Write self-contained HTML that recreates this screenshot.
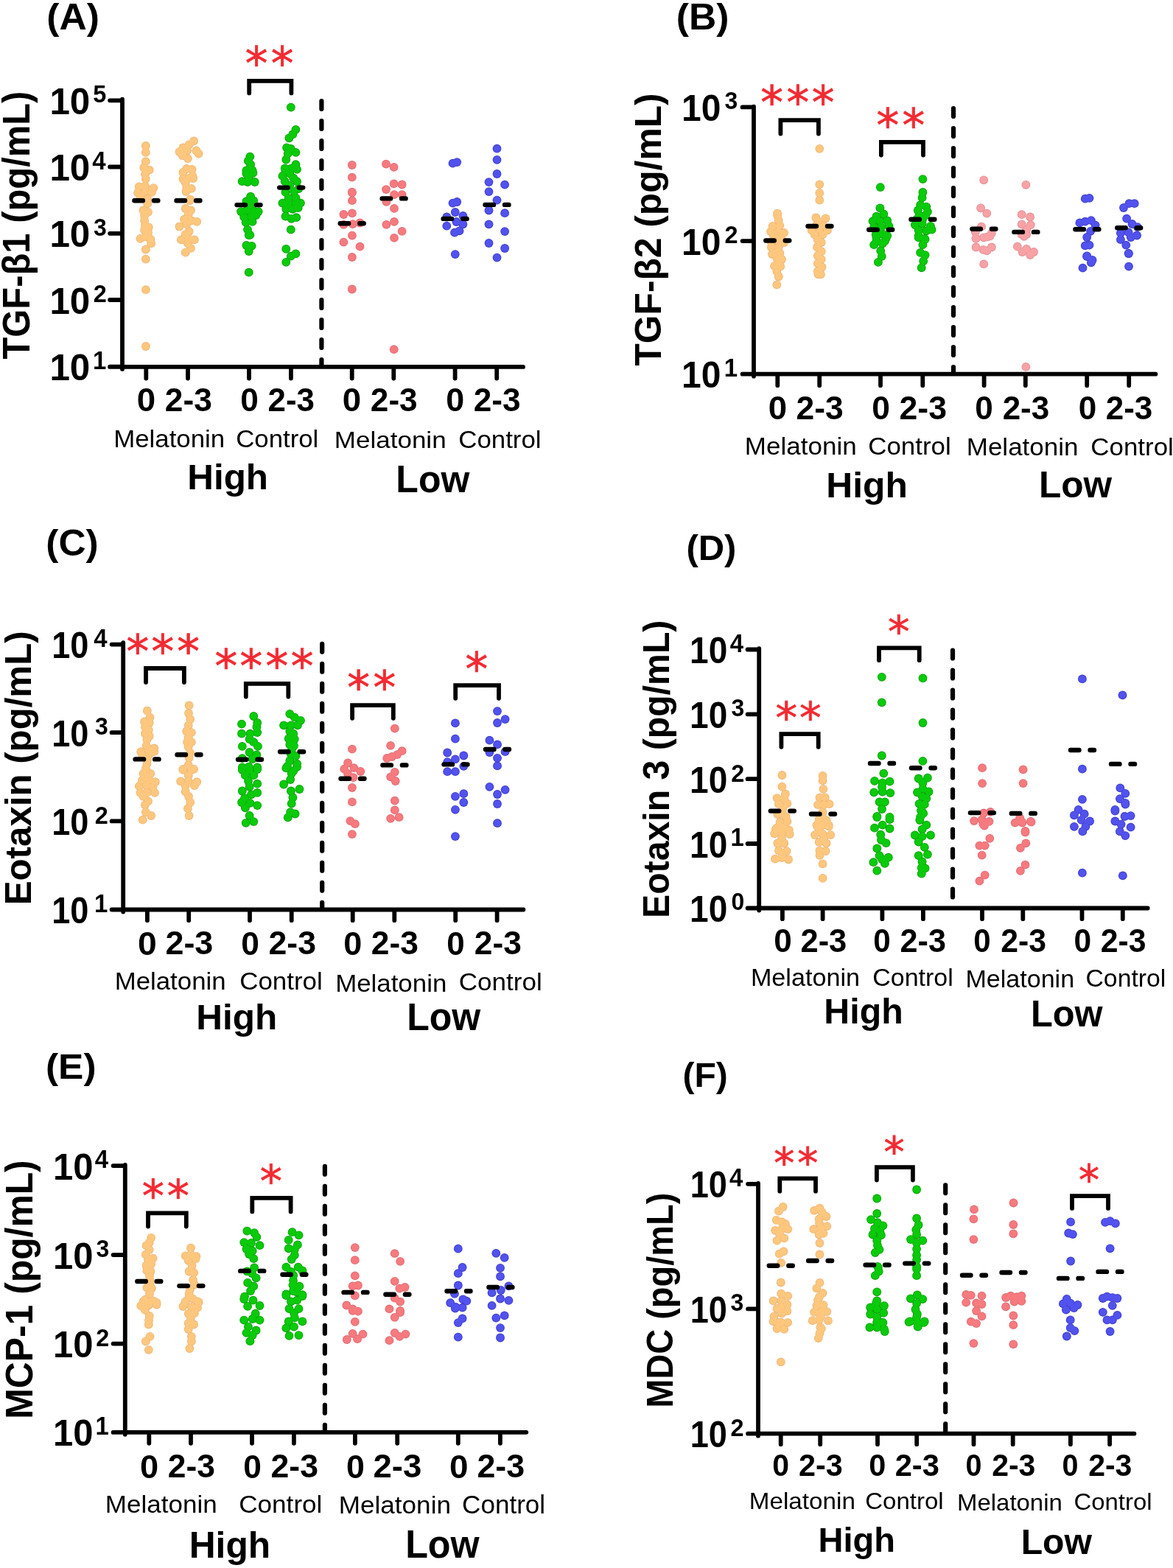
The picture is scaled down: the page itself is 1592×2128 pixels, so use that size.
<!DOCTYPE html>
<html><head><meta charset="utf-8"><title>Figure</title><style>
html,body{margin:0;padding:0;background:#fff}
svg{display:block}
text{font-family:'Liberation Sans', Arial, sans-serif;font-kerning:none}
.b{font-weight:bold}
.ax{fill:none;stroke:#000;stroke-width:5.8;stroke-linecap:round}
.vd{fill:none;stroke:#000;stroke-width:6.2;stroke-linecap:round;stroke-dasharray:10.8 16.2}
.md{fill:none;stroke:#000;stroke-width:6.4;stroke-linecap:round;stroke-dasharray:11.5 15}
.br{fill:none;stroke:#000;stroke-width:5.8;stroke-linecap:round;stroke-linejoin:miter}
.st{font-family:'DejaVu Sans',sans-serif;fill:#F22A32;stroke:#F22A32;stroke-width:0.7;text-anchor:middle}
</style></head>
<body><svg xmlns="http://www.w3.org/2000/svg" width="1592" height="2128" viewBox="0 0 1592 2128">
<rect width="1592" height="2128" fill="#fff"/>
<g id="pA"><text transform="translate(63.23,39.76) scale(1.0458,1)" font-size="49.35" class="b">(A)</text>
<text transform="translate(39.8,487.55) rotate(-90) scale(0.9590,1)" font-size="51" class="b">TGF-β1 (pg/mL)</text>
<text transform="translate(67.39,154.8) scale(0.9713,1)" font-size="50.85" class="b">10</text>
<text transform="translate(126.35,139.27) scale(0.96,1)" font-size="33.82" class="b">5</text>
<text transform="translate(67.39,245) scale(0.9713,1)" font-size="50.85" class="b">10</text>
<text transform="translate(125.36,229.8) scale(0.96,1)" font-size="34.3" class="b">4</text>
<text transform="translate(67.39,335.3) scale(0.9713,1)" font-size="50.85" class="b">10</text>
<text transform="translate(126.89,319.73) scale(0.96,1)" font-size="33.26" class="b">3</text>
<text transform="translate(67.39,425.5) scale(0.9713,1)" font-size="50.85" class="b">10</text>
<text transform="translate(126.75,410.3) scale(0.96,1)" font-size="33.8" class="b">2</text>
<text transform="translate(67.39,516.2) scale(0.9713,1)" font-size="50.85" class="b">10</text>
<text transform="translate(126.1,501) scale(0.96,1)" font-size="34.3" class="b">1</text>
<text transform="translate(185.8,557.87) scale(1.0321,1)" font-size="44.21" class="b">0</text>
<text transform="translate(223.86,557.8) scale(1.0043,1)" font-size="44.12" class="b">2-3</text>
<text x="326.15" y="557.87" font-size="44.21" class="b">0</text>
<text transform="translate(363.58,557.8) scale(0.9944,1)" font-size="44.12" class="b">2-3</text>
<text transform="translate(464.8,557.87) scale(1.0321,1)" font-size="44.21" class="b">0</text>
<text x="502.87" y="557.8" font-size="44.12" class="b">2-3</text>
<text transform="translate(605.13,557.87) scale(1.0131,1)" font-size="44.21" class="b">0</text>
<text x="642.77" y="557.8" font-size="44.12" class="b">2-3</text>
<text transform="translate(154.14,606.6) scale(1.0479,1)" font-size="33.26" class="r">Melatonin</text>
<text transform="translate(320.23,606.6) scale(1.0455,1)" font-size="33.26" class="r">Control</text>
<text transform="translate(453.83,608) scale(1.0884,1)" font-size="32.16" class="r">Melatonin</text>
<text transform="translate(622.23,607.5) scale(1.0572,1)" font-size="32.98" class="r">Control</text>
<text transform="translate(254.29,664) scale(1.0142,1)" font-size="48.72" class="b">High</text>
<text transform="translate(537.36,668) scale(0.9742,1)" font-size="51.31" class="b">Low</text>
<path d="M166 134.6V500.9M149.1 497.9H710M149.1 136.3H166M149.1 226.5H166M149.1 316.8H166M149.1 407H166M149.1 497.7H166M198.3 497.9V513.5M255 497.9V513.5M338 497.9V513.5M394.9 497.9V513.5M477.7 497.9V513.5M534.3 497.9V513.5M617.6 497.9V513.5M674.2 497.9V513.5" class="ax"/>
<path d="M436.4 137.2V497" class="vd"/>
<g fill="#EDB676"><circle cx="197.8" cy="198" r="5.9"/><circle cx="197.8" cy="206.9" r="5.9"/><circle cx="197.8" cy="219.2" r="5.9"/><circle cx="195.3" cy="227.4" r="5.9"/><circle cx="202.7" cy="230.6" r="5.9"/><circle cx="197" cy="236.3" r="5.9"/><circle cx="197.8" cy="242.9" r="5.9"/><circle cx="188.8" cy="253.5" r="5.9"/><circle cx="197" cy="252.7" r="5.9"/><circle cx="208.4" cy="255.1" r="5.9"/><circle cx="187.1" cy="261.7" r="5.9"/><circle cx="197" cy="260" r="5.9"/><circle cx="205.9" cy="260.8" r="5.9"/><circle cx="190.4" cy="266.6" r="5.9"/><circle cx="200.2" cy="269.9" r="5.9"/><circle cx="200.2" cy="276.4" r="5.9"/><circle cx="194.5" cy="285.4" r="5.9"/><circle cx="201" cy="287.9" r="5.9"/><circle cx="196.1" cy="292.8" r="5.9"/><circle cx="196.1" cy="299.3" r="5.9"/><circle cx="196.9" cy="305.8" r="5.9"/><circle cx="201.8" cy="308.3" r="5.9"/><circle cx="196.1" cy="312.4" r="5.9"/><circle cx="201" cy="315.6" r="5.9"/><circle cx="190.4" cy="323.8" r="5.9"/><circle cx="197.8" cy="321.3" r="5.9"/><circle cx="204.3" cy="324.6" r="5.9"/><circle cx="205.1" cy="330.3" r="5.9"/><circle cx="197.8" cy="338.5" r="5.9"/><circle cx="197.8" cy="351.6" r="5.9"/><circle cx="197.9" cy="393.2" r="5.9"/><circle cx="197.9" cy="470" r="5.9"/></g><g fill="#FEC77E"><circle cx="197.8" cy="198" r="5"/><circle cx="197.8" cy="206.9" r="5"/><circle cx="197.8" cy="219.2" r="5"/><circle cx="195.3" cy="227.4" r="5"/><circle cx="202.7" cy="230.6" r="5"/><circle cx="197" cy="236.3" r="5"/><circle cx="197.8" cy="242.9" r="5"/><circle cx="188.8" cy="253.5" r="5"/><circle cx="197" cy="252.7" r="5"/><circle cx="208.4" cy="255.1" r="5"/><circle cx="187.1" cy="261.7" r="5"/><circle cx="197" cy="260" r="5"/><circle cx="205.9" cy="260.8" r="5"/><circle cx="190.4" cy="266.6" r="5"/><circle cx="200.2" cy="269.9" r="5"/><circle cx="200.2" cy="276.4" r="5"/><circle cx="194.5" cy="285.4" r="5"/><circle cx="201" cy="287.9" r="5"/><circle cx="196.1" cy="292.8" r="5"/><circle cx="196.1" cy="299.3" r="5"/><circle cx="196.9" cy="305.8" r="5"/><circle cx="201.8" cy="308.3" r="5"/><circle cx="196.1" cy="312.4" r="5"/><circle cx="201" cy="315.6" r="5"/><circle cx="190.4" cy="323.8" r="5"/><circle cx="197.8" cy="321.3" r="5"/><circle cx="204.3" cy="324.6" r="5"/><circle cx="205.1" cy="330.3" r="5"/><circle cx="197.8" cy="338.5" r="5"/><circle cx="197.8" cy="351.6" r="5"/><circle cx="197.9" cy="393.2" r="5"/><circle cx="197.9" cy="470" r="5"/></g>
<g fill="#EDB676"><circle cx="263.1" cy="191.4" r="5.9"/><circle cx="256.6" cy="196.3" r="5.9"/><circle cx="248.4" cy="200.4" r="5.9"/><circle cx="243.5" cy="206.1" r="5.9"/><circle cx="254.1" cy="204.5" r="5.9"/><circle cx="266.4" cy="204.5" r="5.9"/><circle cx="269.6" cy="208.6" r="5.9"/><circle cx="247.6" cy="211" r="5.9"/><circle cx="254.9" cy="215.1" r="5.9"/><circle cx="253.3" cy="229" r="5.9"/><circle cx="260.6" cy="229.8" r="5.9"/><circle cx="248.4" cy="233.9" r="5.9"/><circle cx="261.5" cy="238.8" r="5.9"/><circle cx="248.4" cy="242.9" r="5.9"/><circle cx="256.6" cy="242.1" r="5.9"/><circle cx="262.3" cy="242.1" r="5.9"/><circle cx="251.7" cy="247.8" r="5.9"/><circle cx="253.3" cy="255.1" r="5.9"/><circle cx="259.8" cy="255.9" r="5.9"/><circle cx="252.5" cy="260" r="5.9"/><circle cx="258.2" cy="270.6" r="5.9"/><circle cx="257.4" cy="272.3" r="5.9"/><circle cx="251.7" cy="283" r="5.9"/><circle cx="259" cy="285.4" r="5.9"/><circle cx="255.7" cy="291.1" r="5.9"/><circle cx="250" cy="297.7" r="5.9"/><circle cx="259.8" cy="299.3" r="5.9"/><circle cx="267.2" cy="300.9" r="5.9"/><circle cx="243.5" cy="307.5" r="5.9"/><circle cx="253.3" cy="304.2" r="5.9"/><circle cx="256.6" cy="314" r="5.9"/><circle cx="251.7" cy="318.1" r="5.9"/><circle cx="245.9" cy="325.4" r="5.9"/><circle cx="255.7" cy="323.8" r="5.9"/><circle cx="263.9" cy="325.4" r="5.9"/><circle cx="254.9" cy="330.3" r="5.9"/><circle cx="259" cy="336.9" r="5.9"/><circle cx="251.7" cy="342.6" r="5.9"/></g><g fill="#FEC77E"><circle cx="263.1" cy="191.4" r="5"/><circle cx="256.6" cy="196.3" r="5"/><circle cx="248.4" cy="200.4" r="5"/><circle cx="243.5" cy="206.1" r="5"/><circle cx="254.1" cy="204.5" r="5"/><circle cx="266.4" cy="204.5" r="5"/><circle cx="269.6" cy="208.6" r="5"/><circle cx="247.6" cy="211" r="5"/><circle cx="254.9" cy="215.1" r="5"/><circle cx="253.3" cy="229" r="5"/><circle cx="260.6" cy="229.8" r="5"/><circle cx="248.4" cy="233.9" r="5"/><circle cx="261.5" cy="238.8" r="5"/><circle cx="248.4" cy="242.9" r="5"/><circle cx="256.6" cy="242.1" r="5"/><circle cx="262.3" cy="242.1" r="5"/><circle cx="251.7" cy="247.8" r="5"/><circle cx="253.3" cy="255.1" r="5"/><circle cx="259.8" cy="255.9" r="5"/><circle cx="252.5" cy="260" r="5"/><circle cx="258.2" cy="270.6" r="5"/><circle cx="257.4" cy="272.3" r="5"/><circle cx="251.7" cy="283" r="5"/><circle cx="259" cy="285.4" r="5"/><circle cx="255.7" cy="291.1" r="5"/><circle cx="250" cy="297.7" r="5"/><circle cx="259.8" cy="299.3" r="5"/><circle cx="267.2" cy="300.9" r="5"/><circle cx="243.5" cy="307.5" r="5"/><circle cx="253.3" cy="304.2" r="5"/><circle cx="256.6" cy="314" r="5"/><circle cx="251.7" cy="318.1" r="5"/><circle cx="245.9" cy="325.4" r="5"/><circle cx="255.7" cy="323.8" r="5"/><circle cx="263.9" cy="325.4" r="5"/><circle cx="254.9" cy="330.3" r="5"/><circle cx="259" cy="336.9" r="5"/><circle cx="251.7" cy="342.6" r="5"/></g>
<g fill="#079F07"><circle cx="339.3" cy="212.6" r="5.9"/><circle cx="336.8" cy="218.3" r="5.9"/><circle cx="340.1" cy="223.2" r="5.9"/><circle cx="334.4" cy="231.4" r="5.9"/><circle cx="342.6" cy="231.4" r="5.9"/><circle cx="339.3" cy="228.3" r="5.9"/><circle cx="334.4" cy="235.6" r="5.9"/><circle cx="343.4" cy="234.8" r="5.9"/><circle cx="337.7" cy="241.3" r="5.9"/><circle cx="328.7" cy="246.2" r="5.9"/><circle cx="336" cy="247" r="5.9"/><circle cx="345.8" cy="247" r="5.9"/><circle cx="340.1" cy="266.6" r="5.9"/><circle cx="334.4" cy="273.2" r="5.9"/><circle cx="344.2" cy="272.4" r="5.9"/><circle cx="339.3" cy="278.1" r="5.9"/><circle cx="327" cy="287.1" r="5.9"/><circle cx="335.2" cy="285.4" r="5.9"/><circle cx="344.2" cy="286.2" r="5.9"/><circle cx="350.7" cy="287.1" r="5.9"/><circle cx="331.1" cy="294.4" r="5.9"/><circle cx="340.9" cy="293.6" r="5.9"/><circle cx="347.5" cy="292" r="5.9"/><circle cx="333.6" cy="301.8" r="5.9"/><circle cx="342.6" cy="300.9" r="5.9"/><circle cx="336" cy="311.6" r="5.9"/><circle cx="339.3" cy="318.9" r="5.9"/><circle cx="337.7" cy="319.1" r="5.9"/><circle cx="334.4" cy="333" r="5.9"/><circle cx="341.7" cy="333.8" r="5.9"/><circle cx="337.7" cy="341.1" r="5.9"/><circle cx="337.7" cy="369.7" r="5.9"/></g><g fill="#0ACB0A"><circle cx="339.3" cy="212.6" r="5"/><circle cx="336.8" cy="218.3" r="5"/><circle cx="340.1" cy="223.2" r="5"/><circle cx="334.4" cy="231.4" r="5"/><circle cx="342.6" cy="231.4" r="5"/><circle cx="339.3" cy="228.3" r="5"/><circle cx="334.4" cy="235.6" r="5"/><circle cx="343.4" cy="234.8" r="5"/><circle cx="337.7" cy="241.3" r="5"/><circle cx="328.7" cy="246.2" r="5"/><circle cx="336" cy="247" r="5"/><circle cx="345.8" cy="247" r="5"/><circle cx="340.1" cy="266.6" r="5"/><circle cx="334.4" cy="273.2" r="5"/><circle cx="344.2" cy="272.4" r="5"/><circle cx="339.3" cy="278.1" r="5"/><circle cx="327" cy="287.1" r="5"/><circle cx="335.2" cy="285.4" r="5"/><circle cx="344.2" cy="286.2" r="5"/><circle cx="350.7" cy="287.1" r="5"/><circle cx="331.1" cy="294.4" r="5"/><circle cx="340.9" cy="293.6" r="5"/><circle cx="347.5" cy="292" r="5"/><circle cx="333.6" cy="301.8" r="5"/><circle cx="342.6" cy="300.9" r="5"/><circle cx="336" cy="311.6" r="5"/><circle cx="339.3" cy="318.9" r="5"/><circle cx="337.7" cy="319.1" r="5"/><circle cx="334.4" cy="333" r="5"/><circle cx="341.7" cy="333.8" r="5"/><circle cx="337.7" cy="341.1" r="5"/><circle cx="337.7" cy="369.7" r="5"/></g>
<g fill="#079F07"><circle cx="394.8" cy="145.6" r="5.9"/><circle cx="401.4" cy="175.8" r="5.9"/><circle cx="397.3" cy="182.4" r="5.9"/><circle cx="392.4" cy="187.3" r="5.9"/><circle cx="389.1" cy="200.3" r="5.9"/><circle cx="394.8" cy="202" r="5.9"/><circle cx="401.4" cy="206.9" r="5.9"/><circle cx="388.3" cy="216.7" r="5.9"/><circle cx="390.7" cy="208.5" r="5.9"/><circle cx="401.4" cy="223.2" r="5.9"/><circle cx="394.8" cy="228.9" r="5.9"/><circle cx="387.5" cy="231.4" r="5.9"/><circle cx="386.7" cy="228.3" r="5.9"/><circle cx="398.9" cy="227.4" r="5.9"/><circle cx="403" cy="229.9" r="5.9"/><circle cx="383.4" cy="238.9" r="5.9"/><circle cx="393.2" cy="235.6" r="5.9"/><circle cx="398.1" cy="241.3" r="5.9"/><circle cx="386.7" cy="246.2" r="5.9"/><circle cx="403" cy="246.2" r="5.9"/><circle cx="393.2" cy="251.9" r="5.9"/><circle cx="405.4" cy="256" r="5.9"/><circle cx="387.5" cy="260.9" r="5.9"/><circle cx="398.9" cy="260.1" r="5.9"/><circle cx="391.6" cy="269.1" r="5.9"/><circle cx="401.4" cy="268.3" r="5.9"/><circle cx="383.4" cy="275.6" r="5.9"/><circle cx="391.6" cy="276.4" r="5.9"/><circle cx="401.4" cy="275.6" r="5.9"/><circle cx="407.9" cy="275.6" r="5.9"/><circle cx="388.3" cy="283.8" r="5.9"/><circle cx="397.3" cy="283.8" r="5.9"/><circle cx="404.6" cy="282.2" r="5.9"/><circle cx="387.5" cy="293.6" r="5.9"/><circle cx="395.6" cy="296.9" r="5.9"/><circle cx="402.2" cy="295.2" r="5.9"/><circle cx="394.8" cy="311.6" r="5.9"/><circle cx="388.3" cy="337.9" r="5.9"/><circle cx="401.4" cy="344.4" r="5.9"/><circle cx="394.8" cy="347.7" r="5.9"/><circle cx="388.3" cy="355.8" r="5.9"/></g><g fill="#0ACB0A"><circle cx="394.8" cy="145.6" r="5"/><circle cx="401.4" cy="175.8" r="5"/><circle cx="397.3" cy="182.4" r="5"/><circle cx="392.4" cy="187.3" r="5"/><circle cx="389.1" cy="200.3" r="5"/><circle cx="394.8" cy="202" r="5"/><circle cx="401.4" cy="206.9" r="5"/><circle cx="388.3" cy="216.7" r="5"/><circle cx="390.7" cy="208.5" r="5"/><circle cx="401.4" cy="223.2" r="5"/><circle cx="394.8" cy="228.9" r="5"/><circle cx="387.5" cy="231.4" r="5"/><circle cx="386.7" cy="228.3" r="5"/><circle cx="398.9" cy="227.4" r="5"/><circle cx="403" cy="229.9" r="5"/><circle cx="383.4" cy="238.9" r="5"/><circle cx="393.2" cy="235.6" r="5"/><circle cx="398.1" cy="241.3" r="5"/><circle cx="386.7" cy="246.2" r="5"/><circle cx="403" cy="246.2" r="5"/><circle cx="393.2" cy="251.9" r="5"/><circle cx="405.4" cy="256" r="5"/><circle cx="387.5" cy="260.9" r="5"/><circle cx="398.9" cy="260.1" r="5"/><circle cx="391.6" cy="269.1" r="5"/><circle cx="401.4" cy="268.3" r="5"/><circle cx="383.4" cy="275.6" r="5"/><circle cx="391.6" cy="276.4" r="5"/><circle cx="401.4" cy="275.6" r="5"/><circle cx="407.9" cy="275.6" r="5"/><circle cx="388.3" cy="283.8" r="5"/><circle cx="397.3" cy="283.8" r="5"/><circle cx="404.6" cy="282.2" r="5"/><circle cx="387.5" cy="293.6" r="5"/><circle cx="395.6" cy="296.9" r="5"/><circle cx="402.2" cy="295.2" r="5"/><circle cx="394.8" cy="311.6" r="5"/><circle cx="388.3" cy="337.9" r="5"/><circle cx="401.4" cy="344.4" r="5"/><circle cx="394.8" cy="347.7" r="5"/><circle cx="388.3" cy="355.8" r="5"/></g>
<g fill="#DA6E76"><circle cx="477.8" cy="224" r="5.9"/><circle cx="477.8" cy="240.6" r="5.9"/><circle cx="477.8" cy="260.6" r="5.9"/><circle cx="477.9" cy="261.6" r="5.9"/><circle cx="477.9" cy="272.2" r="5.9"/><circle cx="466.4" cy="291" r="5.9"/><circle cx="477.9" cy="289.4" r="5.9"/><circle cx="466.4" cy="304.9" r="5.9"/><circle cx="478.7" cy="304.1" r="5.9"/><circle cx="488.5" cy="302.5" r="5.9"/><circle cx="477.9" cy="319.6" r="5.9"/><circle cx="466.4" cy="328.6" r="5.9"/><circle cx="488.5" cy="334.7" r="5.9"/><circle cx="477.9" cy="349" r="5.9"/><circle cx="477.8" cy="392.5" r="5.9"/></g><g fill="#F77A7E"><circle cx="477.8" cy="224" r="5"/><circle cx="477.8" cy="240.6" r="5"/><circle cx="477.8" cy="260.6" r="5"/><circle cx="477.9" cy="261.6" r="5"/><circle cx="477.9" cy="272.2" r="5"/><circle cx="466.4" cy="291" r="5"/><circle cx="477.9" cy="289.4" r="5"/><circle cx="466.4" cy="304.9" r="5"/><circle cx="478.7" cy="304.1" r="5"/><circle cx="488.5" cy="302.5" r="5"/><circle cx="477.9" cy="319.6" r="5"/><circle cx="466.4" cy="328.6" r="5"/><circle cx="488.5" cy="334.7" r="5"/><circle cx="477.9" cy="349" r="5"/><circle cx="477.8" cy="392.5" r="5"/></g>
<g fill="#DA6E76"><circle cx="524" cy="222.6" r="5.9"/><circle cx="534.6" cy="226.8" r="5.9"/><circle cx="534.6" cy="249.4" r="5.9"/><circle cx="545.6" cy="250.5" r="5.9"/><circle cx="524" cy="257.1" r="5.9"/><circle cx="535" cy="264.1" r="5.9"/><circle cx="545.6" cy="264.1" r="5.9"/><circle cx="524.4" cy="273.9" r="5.9"/><circle cx="535" cy="282.9" r="5.9"/><circle cx="535" cy="300.8" r="5.9"/><circle cx="524.4" cy="304.9" r="5.9"/><circle cx="545.6" cy="313.9" r="5.9"/><circle cx="535" cy="322.9" r="5.9"/><circle cx="534.7" cy="474.2" r="5.9"/></g><g fill="#F77A7E"><circle cx="524" cy="222.6" r="5"/><circle cx="534.6" cy="226.8" r="5"/><circle cx="534.6" cy="249.4" r="5"/><circle cx="545.6" cy="250.5" r="5"/><circle cx="524" cy="257.1" r="5"/><circle cx="535" cy="264.1" r="5"/><circle cx="545.6" cy="264.1" r="5"/><circle cx="524.4" cy="273.9" r="5"/><circle cx="535" cy="282.9" r="5"/><circle cx="535" cy="300.8" r="5"/><circle cx="524.4" cy="304.9" r="5"/><circle cx="545.6" cy="313.9" r="5"/><circle cx="535" cy="322.9" r="5"/><circle cx="534.7" cy="474.2" r="5"/></g>
<g fill="#3B3BC4"><circle cx="614.5" cy="221.7" r="5.9"/><circle cx="620.2" cy="220.1" r="5.9"/><circle cx="614.5" cy="275.6" r="5.9"/><circle cx="620.2" cy="274" r="5.9"/><circle cx="617.8" cy="288" r="5.9"/><circle cx="628.4" cy="292.9" r="5.9"/><circle cx="606.3" cy="294.5" r="5.9"/><circle cx="619.4" cy="301" r="5.9"/><circle cx="628.4" cy="304.3" r="5.9"/><circle cx="606.3" cy="306.7" r="5.9"/><circle cx="617" cy="315.7" r="5.9"/><circle cx="623.5" cy="313.3" r="5.9"/><circle cx="617.8" cy="345.1" r="5.9"/></g><g fill="#5252EE"><circle cx="614.5" cy="221.7" r="5"/><circle cx="620.2" cy="220.1" r="5"/><circle cx="614.5" cy="275.6" r="5"/><circle cx="620.2" cy="274" r="5"/><circle cx="617.8" cy="288" r="5"/><circle cx="628.4" cy="292.9" r="5"/><circle cx="606.3" cy="294.5" r="5"/><circle cx="619.4" cy="301" r="5"/><circle cx="628.4" cy="304.3" r="5"/><circle cx="606.3" cy="306.7" r="5"/><circle cx="617" cy="315.7" r="5"/><circle cx="623.5" cy="313.3" r="5"/><circle cx="617.8" cy="345.1" r="5"/></g>
<g fill="#3B3BC4"><circle cx="674.5" cy="201.7" r="5.9"/><circle cx="674.5" cy="216.8" r="5.9"/><circle cx="674.5" cy="236" r="5.9"/><circle cx="663.5" cy="247.1" r="5.9"/><circle cx="685.1" cy="250.7" r="5.9"/><circle cx="663.5" cy="260.1" r="5.9"/><circle cx="674.5" cy="271.6" r="5.9"/><circle cx="663.5" cy="285.5" r="5.9"/><circle cx="685.1" cy="289.2" r="5.9"/><circle cx="663.5" cy="304.3" r="5.9"/><circle cx="685.1" cy="314.1" r="5.9"/><circle cx="663.5" cy="330" r="5.9"/><circle cx="685.1" cy="337" r="5.9"/><circle cx="674.5" cy="349.6" r="5.9"/></g><g fill="#5252EE"><circle cx="674.5" cy="201.7" r="5"/><circle cx="674.5" cy="216.8" r="5"/><circle cx="674.5" cy="236" r="5"/><circle cx="663.5" cy="247.1" r="5"/><circle cx="685.1" cy="250.7" r="5"/><circle cx="663.5" cy="260.1" r="5"/><circle cx="674.5" cy="271.6" r="5"/><circle cx="663.5" cy="285.5" r="5"/><circle cx="685.1" cy="289.2" r="5"/><circle cx="663.5" cy="304.3" r="5"/><circle cx="685.1" cy="314.1" r="5"/><circle cx="663.5" cy="330" r="5"/><circle cx="685.1" cy="337" r="5"/><circle cx="674.5" cy="349.6" r="5"/></g>
<path d="M182.4 272.3H214.4M239.5 272.3H271.5M321.5 278.1H353.5M379.2 254.6H411.2M461.7 303.3H493.7M518.6 269.4H550.6M601.6 296.9H633.6M658.5 277.9H690.5" class="md"/>
<path d="M338.2 126.4V109.8H395.4V126.4" class="br"/>
<text x="348" y="107.56" font-size="61.4" class="st">*</text>
<text x="383" y="107.56" font-size="61.4" class="st">*</text></g>
<g id="pB"><text transform="translate(917.83,39.71) scale(1.0428,1)" font-size="49.56" class="b">(B)</text>
<text transform="translate(896.8,496.56) rotate(-90) scale(0.9865,1)" font-size="50.43" class="b">TGF-β2 (pg/mL)</text>
<text transform="translate(924.98,163.9) scale(0.9440,1)" font-size="50.85" class="b">10</text>
<text transform="translate(983.59,148.33) scale(0.96,1)" font-size="33.26" class="b">3</text>
<text transform="translate(924.98,345.6) scale(0.9440,1)" font-size="50.85" class="b">10</text>
<text transform="translate(983.45,330.4) scale(0.96,1)" font-size="33.8" class="b">2</text>
<text transform="translate(924.98,526.1) scale(0.9440,1)" font-size="50.85" class="b">10</text>
<text transform="translate(982.8,510.9) scale(0.96,1)" font-size="34.3" class="b">1</text>
<text transform="translate(1042.8,569.07) scale(1.0354,1)" font-size="44.07" class="b">0</text>
<text transform="translate(1080.46,569.01) scale(1.0108,1)" font-size="43.98" class="b">2-3</text>
<text transform="translate(1183.15,569.07) scale(1.0068,1)" font-size="44.07" class="b">0</text>
<text transform="translate(1220.55,569.01) scale(1.0141,1)" font-size="43.98" class="b">2-3</text>
<text x="1323.26" y="569.07" font-size="44.07" class="b">0</text>
<text x="1360.67" y="569.01" font-size="43.98" class="b">2-3</text>
<text x="1463.66" y="569.07" font-size="44.07" class="b">0</text>
<text x="1500.77" y="569.01" font-size="43.98" class="b">2-3</text>
<text transform="translate(1010.83,616.6) scale(1.0530,1)" font-size="33.26" class="r">Melatonin</text>
<text transform="translate(1178.23,616.6) scale(1.0494,1)" font-size="33.26" class="r">Control</text>
<text transform="translate(1311.73,618.3) scale(1.0573,1)" font-size="33.12" class="r">Melatonin</text>
<text transform="translate(1480.33,618.3) scale(1.0537,1)" font-size="33.12" class="r">Control</text>
<text transform="translate(1121.27,675) scale(1.0211,1)" font-size="48.72" class="b">High</text>
<text transform="translate(1409.98,674.6) scale(0.9914,1)" font-size="50" class="b">Low</text>
<path d="M1023 144.6V510.7M1007.6 507.7H1568.4M1007.6 145.4H1023M1007.6 327.1H1023M1007.6 507.6H1023M1055.3 507.7V523.2M1112.2 507.7V523.2M1195 507.7V523.2M1252.3 507.7V523.2M1335.6 507.7V523.2M1391.8 507.7V523.2M1475.2 507.7V523.2M1532.2 507.7V523.2" class="ax"/>
<path d="M1294 147.2V507" class="vd"/>
<g fill="#EDB676"><circle cx="1055.1" cy="289.6" r="5.9"/><circle cx="1055.1" cy="292.2" r="5.9"/><circle cx="1056.7" cy="298.8" r="5.9"/><circle cx="1048.6" cy="306.9" r="5.9"/><circle cx="1058.4" cy="306.1" r="5.9"/><circle cx="1046.1" cy="314.3" r="5.9"/><circle cx="1055.9" cy="314.3" r="5.9"/><circle cx="1064.1" cy="315.9" r="5.9"/><circle cx="1046.9" cy="329" r="5.9"/><circle cx="1056.7" cy="327.4" r="5.9"/><circle cx="1064.1" cy="329" r="5.9"/><circle cx="1046.9" cy="335.5" r="5.9"/><circle cx="1056.7" cy="335.5" r="5.9"/><circle cx="1051.8" cy="342.9" r="5.9"/><circle cx="1058.4" cy="343.7" r="5.9"/><circle cx="1054.3" cy="350.2" r="5.9"/><circle cx="1055.9" cy="357.6" r="5.9"/><circle cx="1051" cy="360.8" r="5.9"/><circle cx="1059.2" cy="361.7" r="5.9"/><circle cx="1054.3" cy="368.2" r="5.9"/><circle cx="1056.7" cy="375.5" r="5.9"/><circle cx="1056.7" cy="374.9" r="5.9"/><circle cx="1054.3" cy="386.3" r="5.9"/><circle cx="1050" cy="321" r="5.9"/><circle cx="1060" cy="321" r="5.9"/><circle cx="1048" cy="345" r="5.9"/><circle cx="1061" cy="352" r="5.9"/></g><g fill="#FEC77E"><circle cx="1055.1" cy="289.6" r="5"/><circle cx="1055.1" cy="292.2" r="5"/><circle cx="1056.7" cy="298.8" r="5"/><circle cx="1048.6" cy="306.9" r="5"/><circle cx="1058.4" cy="306.1" r="5"/><circle cx="1046.1" cy="314.3" r="5"/><circle cx="1055.9" cy="314.3" r="5"/><circle cx="1064.1" cy="315.9" r="5"/><circle cx="1046.9" cy="329" r="5"/><circle cx="1056.7" cy="327.4" r="5"/><circle cx="1064.1" cy="329" r="5"/><circle cx="1046.9" cy="335.5" r="5"/><circle cx="1056.7" cy="335.5" r="5"/><circle cx="1051.8" cy="342.9" r="5"/><circle cx="1058.4" cy="343.7" r="5"/><circle cx="1054.3" cy="350.2" r="5"/><circle cx="1055.9" cy="357.6" r="5"/><circle cx="1051" cy="360.8" r="5"/><circle cx="1059.2" cy="361.7" r="5"/><circle cx="1054.3" cy="368.2" r="5"/><circle cx="1056.7" cy="375.5" r="5"/><circle cx="1056.7" cy="374.9" r="5"/><circle cx="1054.3" cy="386.3" r="5"/><circle cx="1050" cy="321" r="5"/><circle cx="1060" cy="321" r="5"/><circle cx="1048" cy="345" r="5"/><circle cx="1061" cy="352" r="5"/></g>
<g fill="#EDB676"><circle cx="1112.3" cy="201.8" r="5.9"/><circle cx="1112.3" cy="250.4" r="5.9"/><circle cx="1112.3" cy="261.9" r="5.9"/><circle cx="1112.3" cy="271.7" r="5.9"/><circle cx="1107.4" cy="295.5" r="5.9"/><circle cx="1120.4" cy="296.3" r="5.9"/><circle cx="1112.3" cy="301.2" r="5.9"/><circle cx="1101.7" cy="312.7" r="5.9"/><circle cx="1112.3" cy="311" r="5.9"/><circle cx="1122.9" cy="312.7" r="5.9"/><circle cx="1105.7" cy="318.4" r="5.9"/><circle cx="1116.4" cy="318.4" r="5.9"/><circle cx="1109.8" cy="325.7" r="5.9"/><circle cx="1114.7" cy="329" r="5.9"/><circle cx="1109" cy="335.5" r="5.9"/><circle cx="1114.7" cy="341.2" r="5.9"/><circle cx="1109.8" cy="347" r="5.9"/><circle cx="1114.7" cy="351.9" r="5.9"/><circle cx="1109.8" cy="357.6" r="5.9"/><circle cx="1115.5" cy="362.5" r="5.9"/><circle cx="1109.8" cy="368.2" r="5.9"/><circle cx="1113.9" cy="372.3" r="5.9"/><circle cx="1110.6" cy="372.4" r="5.9"/><circle cx="1108" cy="306" r="5.9"/><circle cx="1117" cy="306" r="5.9"/></g><g fill="#FEC77E"><circle cx="1112.3" cy="201.8" r="5"/><circle cx="1112.3" cy="250.4" r="5"/><circle cx="1112.3" cy="261.9" r="5"/><circle cx="1112.3" cy="271.7" r="5"/><circle cx="1107.4" cy="295.5" r="5"/><circle cx="1120.4" cy="296.3" r="5"/><circle cx="1112.3" cy="301.2" r="5"/><circle cx="1101.7" cy="312.7" r="5"/><circle cx="1112.3" cy="311" r="5"/><circle cx="1122.9" cy="312.7" r="5"/><circle cx="1105.7" cy="318.4" r="5"/><circle cx="1116.4" cy="318.4" r="5"/><circle cx="1109.8" cy="325.7" r="5"/><circle cx="1114.7" cy="329" r="5"/><circle cx="1109" cy="335.5" r="5"/><circle cx="1114.7" cy="341.2" r="5"/><circle cx="1109.8" cy="347" r="5"/><circle cx="1114.7" cy="351.9" r="5"/><circle cx="1109.8" cy="357.6" r="5"/><circle cx="1115.5" cy="362.5" r="5"/><circle cx="1109.8" cy="368.2" r="5"/><circle cx="1113.9" cy="372.3" r="5"/><circle cx="1110.6" cy="372.4" r="5"/><circle cx="1108" cy="306" r="5"/><circle cx="1117" cy="306" r="5"/></g>
<g fill="#079F07"><circle cx="1194.8" cy="254.1" r="5.9"/><circle cx="1194.4" cy="282.3" r="5.9"/><circle cx="1189.5" cy="293.7" r="5.9"/><circle cx="1199.3" cy="290.4" r="5.9"/><circle cx="1184.6" cy="300.2" r="5.9"/><circle cx="1194.4" cy="300.2" r="5.9"/><circle cx="1204.2" cy="299.4" r="5.9"/><circle cx="1186.2" cy="308.4" r="5.9"/><circle cx="1196" cy="308.4" r="5.9"/><circle cx="1206.6" cy="306.8" r="5.9"/><circle cx="1188.7" cy="318.2" r="5.9"/><circle cx="1197.7" cy="317.4" r="5.9"/><circle cx="1204.2" cy="319.8" r="5.9"/><circle cx="1189.5" cy="327.2" r="5.9"/><circle cx="1200.9" cy="327.2" r="5.9"/><circle cx="1189.5" cy="322.4" r="5.9"/><circle cx="1202.6" cy="323.3" r="5.9"/><circle cx="1186.2" cy="332.2" r="5.9"/><circle cx="1197.7" cy="330.6" r="5.9"/><circle cx="1195.2" cy="340.4" r="5.9"/><circle cx="1196.8" cy="347.8" r="5.9"/><circle cx="1191.9" cy="355.9" r="5.9"/></g><g fill="#0ACB0A"><circle cx="1194.8" cy="254.1" r="5"/><circle cx="1194.4" cy="282.3" r="5"/><circle cx="1189.5" cy="293.7" r="5"/><circle cx="1199.3" cy="290.4" r="5"/><circle cx="1184.6" cy="300.2" r="5"/><circle cx="1194.4" cy="300.2" r="5"/><circle cx="1204.2" cy="299.4" r="5"/><circle cx="1186.2" cy="308.4" r="5"/><circle cx="1196" cy="308.4" r="5"/><circle cx="1206.6" cy="306.8" r="5"/><circle cx="1188.7" cy="318.2" r="5"/><circle cx="1197.7" cy="317.4" r="5"/><circle cx="1204.2" cy="319.8" r="5"/><circle cx="1189.5" cy="327.2" r="5"/><circle cx="1200.9" cy="327.2" r="5"/><circle cx="1189.5" cy="322.4" r="5"/><circle cx="1202.6" cy="323.3" r="5"/><circle cx="1186.2" cy="332.2" r="5"/><circle cx="1197.7" cy="330.6" r="5"/><circle cx="1195.2" cy="340.4" r="5"/><circle cx="1196.8" cy="347.8" r="5"/><circle cx="1191.9" cy="355.9" r="5"/></g>
<g fill="#079F07"><circle cx="1252.4" cy="243.1" r="5.9"/><circle cx="1252.4" cy="261" r="5.9"/><circle cx="1251.6" cy="268.4" r="5.9"/><circle cx="1249.1" cy="278.2" r="5.9"/><circle cx="1257.3" cy="280.6" r="5.9"/><circle cx="1245.8" cy="285.5" r="5.9"/><circle cx="1258.9" cy="287.2" r="5.9"/><circle cx="1247.5" cy="292.1" r="5.9"/><circle cx="1256.5" cy="292.1" r="5.9"/><circle cx="1241.8" cy="305.1" r="5.9"/><circle cx="1251.6" cy="303.5" r="5.9"/><circle cx="1263" cy="306.8" r="5.9"/><circle cx="1246.7" cy="312.5" r="5.9"/><circle cx="1257.3" cy="313.3" r="5.9"/><circle cx="1264.6" cy="311.7" r="5.9"/><circle cx="1246.7" cy="319.8" r="5.9"/><circle cx="1254.8" cy="323.9" r="5.9"/><circle cx="1246.7" cy="322.4" r="5.9"/><circle cx="1255.6" cy="324.9" r="5.9"/><circle cx="1252.4" cy="332.2" r="5.9"/><circle cx="1249.1" cy="342.9" r="5.9"/><circle cx="1255.6" cy="346.1" r="5.9"/><circle cx="1253.2" cy="354.3" r="5.9"/><circle cx="1250.7" cy="363.3" r="5.9"/><circle cx="1252" cy="298" r="5.9"/><circle cx="1244" cy="298" r="5.9"/></g><g fill="#0ACB0A"><circle cx="1252.4" cy="243.1" r="5"/><circle cx="1252.4" cy="261" r="5"/><circle cx="1251.6" cy="268.4" r="5"/><circle cx="1249.1" cy="278.2" r="5"/><circle cx="1257.3" cy="280.6" r="5"/><circle cx="1245.8" cy="285.5" r="5"/><circle cx="1258.9" cy="287.2" r="5"/><circle cx="1247.5" cy="292.1" r="5"/><circle cx="1256.5" cy="292.1" r="5"/><circle cx="1241.8" cy="305.1" r="5"/><circle cx="1251.6" cy="303.5" r="5"/><circle cx="1263" cy="306.8" r="5"/><circle cx="1246.7" cy="312.5" r="5"/><circle cx="1257.3" cy="313.3" r="5"/><circle cx="1264.6" cy="311.7" r="5"/><circle cx="1246.7" cy="319.8" r="5"/><circle cx="1254.8" cy="323.9" r="5"/><circle cx="1246.7" cy="322.4" r="5"/><circle cx="1255.6" cy="324.9" r="5"/><circle cx="1252.4" cy="332.2" r="5"/><circle cx="1249.1" cy="342.9" r="5"/><circle cx="1255.6" cy="346.1" r="5"/><circle cx="1253.2" cy="354.3" r="5"/><circle cx="1250.7" cy="363.3" r="5"/><circle cx="1252" cy="298" r="5"/><circle cx="1244" cy="298" r="5"/></g>
<g fill="#E08F97"><circle cx="1335.2" cy="244.3" r="5.9"/><circle cx="1331.1" cy="282.3" r="5.9"/><circle cx="1339.3" cy="289.6" r="5.9"/><circle cx="1332" cy="307.6" r="5.9"/><circle cx="1323.8" cy="314.9" r="5.9"/><circle cx="1345.8" cy="316.6" r="5.9"/><circle cx="1324.6" cy="323.9" r="5.9"/><circle cx="1335.2" cy="322.3" r="5.9"/><circle cx="1343.4" cy="320.6" r="5.9"/><circle cx="1324.6" cy="323.3" r="5.9"/><circle cx="1339.3" cy="321.6" r="5.9"/><circle cx="1324.6" cy="335.5" r="5.9"/><circle cx="1334.4" cy="338.8" r="5.9"/><circle cx="1345.8" cy="335.5" r="5.9"/><circle cx="1339.3" cy="340.4" r="5.9"/><circle cx="1335.2" cy="358.4" r="5.9"/></g><g fill="#F8A2A6"><circle cx="1335.2" cy="244.3" r="5"/><circle cx="1331.1" cy="282.3" r="5"/><circle cx="1339.3" cy="289.6" r="5"/><circle cx="1332" cy="307.6" r="5"/><circle cx="1323.8" cy="314.9" r="5"/><circle cx="1345.8" cy="316.6" r="5"/><circle cx="1324.6" cy="323.9" r="5"/><circle cx="1335.2" cy="322.3" r="5"/><circle cx="1343.4" cy="320.6" r="5"/><circle cx="1324.6" cy="323.3" r="5"/><circle cx="1339.3" cy="321.6" r="5"/><circle cx="1324.6" cy="335.5" r="5"/><circle cx="1334.4" cy="338.8" r="5"/><circle cx="1345.8" cy="335.5" r="5"/><circle cx="1339.3" cy="340.4" r="5"/><circle cx="1335.2" cy="358.4" r="5"/></g>
<g fill="#E08F97"><circle cx="1392.4" cy="250.8" r="5.9"/><circle cx="1386.7" cy="291.2" r="5.9"/><circle cx="1398.1" cy="294.5" r="5.9"/><circle cx="1386.7" cy="304.3" r="5.9"/><circle cx="1398.9" cy="305.1" r="5.9"/><circle cx="1393.2" cy="311.7" r="5.9"/><circle cx="1386.7" cy="318.2" r="5.9"/><circle cx="1393.2" cy="318.2" r="5.9"/><circle cx="1389.9" cy="320.8" r="5.9"/><circle cx="1380.9" cy="334.7" r="5.9"/><circle cx="1387.5" cy="342" r="5.9"/><circle cx="1393.2" cy="338" r="5.9"/><circle cx="1403" cy="342" r="5.9"/><circle cx="1398.1" cy="346.1" r="5.9"/><circle cx="1392.4" cy="497.9" r="5.9"/></g><g fill="#F8A2A6"><circle cx="1392.4" cy="250.8" r="5"/><circle cx="1386.7" cy="291.2" r="5"/><circle cx="1398.1" cy="294.5" r="5"/><circle cx="1386.7" cy="304.3" r="5"/><circle cx="1398.9" cy="305.1" r="5"/><circle cx="1393.2" cy="311.7" r="5"/><circle cx="1386.7" cy="318.2" r="5"/><circle cx="1393.2" cy="318.2" r="5"/><circle cx="1389.9" cy="320.8" r="5"/><circle cx="1380.9" cy="334.7" r="5"/><circle cx="1387.5" cy="342" r="5"/><circle cx="1393.2" cy="338" r="5"/><circle cx="1403" cy="342" r="5"/><circle cx="1398.1" cy="346.1" r="5"/><circle cx="1392.4" cy="497.9" r="5"/></g>
<g fill="#3B3BC4"><circle cx="1472.8" cy="269.7" r="5.9"/><circle cx="1478.5" cy="268.9" r="5.9"/><circle cx="1465.4" cy="302.4" r="5.9"/><circle cx="1472.8" cy="300.7" r="5.9"/><circle cx="1480.9" cy="299.1" r="5.9"/><circle cx="1486.6" cy="305.6" r="5.9"/><circle cx="1480.1" cy="313.8" r="5.9"/><circle cx="1475.2" cy="322" r="5.9"/><circle cx="1472.8" cy="333.4" r="5.9"/><circle cx="1478.5" cy="332.6" r="5.9"/><circle cx="1475.2" cy="347.3" r="5.9"/><circle cx="1482.6" cy="353" r="5.9"/><circle cx="1475.2" cy="348.2" r="5.9"/><circle cx="1480.9" cy="356.3" r="5.9"/><circle cx="1469.5" cy="363.7" r="5.9"/></g><g fill="#5252EE"><circle cx="1472.8" cy="269.7" r="5"/><circle cx="1478.5" cy="268.9" r="5"/><circle cx="1465.4" cy="302.4" r="5"/><circle cx="1472.8" cy="300.7" r="5"/><circle cx="1480.9" cy="299.1" r="5"/><circle cx="1486.6" cy="305.6" r="5"/><circle cx="1480.1" cy="313.8" r="5"/><circle cx="1475.2" cy="322" r="5"/><circle cx="1472.8" cy="333.4" r="5"/><circle cx="1478.5" cy="332.6" r="5"/><circle cx="1475.2" cy="347.3" r="5"/><circle cx="1482.6" cy="353" r="5"/><circle cx="1475.2" cy="348.2" r="5"/><circle cx="1480.9" cy="356.3" r="5"/><circle cx="1469.5" cy="363.7" r="5"/></g>
<g fill="#3B3BC4"><circle cx="1525" cy="282" r="5.9"/><circle cx="1532.4" cy="276.2" r="5.9"/><circle cx="1539.7" cy="276.2" r="5.9"/><circle cx="1529.1" cy="296.6" r="5.9"/><circle cx="1536.5" cy="304" r="5.9"/><circle cx="1543.8" cy="308.1" r="5.9"/><circle cx="1520.9" cy="316.2" r="5.9"/><circle cx="1531.6" cy="315.4" r="5.9"/><circle cx="1543" cy="319.5" r="5.9"/><circle cx="1520.9" cy="325.2" r="5.9"/><circle cx="1534.8" cy="322" r="5.9"/><circle cx="1528.3" cy="332.6" r="5.9"/><circle cx="1531.6" cy="344" r="5.9"/><circle cx="1532" cy="344.1" r="5.9"/><circle cx="1532" cy="361.6" r="5.9"/></g><g fill="#5252EE"><circle cx="1525" cy="282" r="5"/><circle cx="1532.4" cy="276.2" r="5"/><circle cx="1539.7" cy="276.2" r="5"/><circle cx="1529.1" cy="296.6" r="5"/><circle cx="1536.5" cy="304" r="5"/><circle cx="1543.8" cy="308.1" r="5"/><circle cx="1520.9" cy="316.2" r="5"/><circle cx="1531.6" cy="315.4" r="5"/><circle cx="1543" cy="319.5" r="5"/><circle cx="1520.9" cy="325.2" r="5"/><circle cx="1534.8" cy="322" r="5"/><circle cx="1528.3" cy="332.6" r="5"/><circle cx="1531.6" cy="344" r="5"/><circle cx="1532" cy="344.1" r="5"/><circle cx="1532" cy="361.6" r="5"/></g>
<path d="M1039.3 326.5H1071.3M1096.5 307H1128.5M1179.2 311.7H1211.2M1236.4 297.8H1268.4M1319.4 310.8H1351.4M1376.4 314.9H1408.4M1459.4 311.3H1491.4M1516.2 309.3H1548.2" class="md"/>
<path d="M1059.4 181.6V163.1H1110.9V181.6" class="br"/>
<text x="1047.7" y="161.46" font-size="61.4" class="st">*</text>
<text x="1082.9" y="161.46" font-size="61.4" class="st">*</text>
<text x="1117" y="161.46" font-size="61.4" class="st">*</text>
<path d="M1195.9 210.5V192.8H1253V210.5" class="br"/>
<text x="1204.9" y="191.56" font-size="61.4" class="st">*</text>
<text x="1239.9" y="191.56" font-size="61.4" class="st">*</text></g>
<g id="pC"><text transform="translate(62.34,754.48) scale(1.0433,1)" font-size="49.24" class="b">(C)</text>
<text transform="translate(42.4,1228.29) rotate(-90) scale(0.9989,1)" font-size="49.29" class="b">Eotaxin (pg/mL)</text>
<text transform="translate(70.16,893.1) scale(0.8875,1)" font-size="50.85" class="b">10</text>
<text transform="translate(127.36,877.9) scale(0.96,1)" font-size="34.3" class="b">4</text>
<text transform="translate(70.16,1012.7) scale(0.8875,1)" font-size="50.85" class="b">10</text>
<text transform="translate(128.89,997.13) scale(0.96,1)" font-size="33.26" class="b">3</text>
<text transform="translate(70.16,1132.9) scale(0.8875,1)" font-size="50.85" class="b">10</text>
<text transform="translate(128.75,1117.7) scale(0.96,1)" font-size="33.8" class="b">2</text>
<text transform="translate(70.16,1252.8) scale(0.8875,1)" font-size="50.85" class="b">10</text>
<text transform="translate(128.1,1237.6) scale(0.96,1)" font-size="34.3" class="b">1</text>
<text transform="translate(186.97,1295.56) scale(1.0235,1)" font-size="45.2" class="b">0</text>
<text transform="translate(224.44,1295.49) scale(0.9952,1)" font-size="45.1" class="b">2-3</text>
<text transform="translate(327.15,1295.56) scale(0.9816,1)" font-size="45.2" class="b">0</text>
<text transform="translate(364.55,1295.49) scale(0.9888,1)" font-size="45.1" class="b">2-3</text>
<text transform="translate(466.22,1295.56) scale(0.9956,1)" font-size="45.2" class="b">0</text>
<text transform="translate(503.86,1295.49) scale(0.9823,1)" font-size="45.1" class="b">2-3</text>
<text transform="translate(606.26,1295.56) scale(0.9723,1)" font-size="45.2" class="b">0</text>
<text transform="translate(643.76,1295.49) scale(0.9823,1)" font-size="45.1" class="b">2-3</text>
<text transform="translate(155.64,1342.6) scale(1.0472,1)" font-size="33.26" class="r">Melatonin</text>
<text transform="translate(325.23,1342.6) scale(1.0503,1)" font-size="33.26" class="r">Control</text>
<text transform="translate(455.14,1346) scale(1.0315,1)" font-size="33.81" class="r">Melatonin</text>
<text transform="translate(622.82,1344.3) scale(1.0630,1)" font-size="32.98" class="r">Control</text>
<text transform="translate(266.29,1396.9) scale(1.0191,1)" font-size="48.58" class="b">High</text>
<text transform="translate(552.25,1398.3) scale(0.9780,1)" font-size="51.16" class="b">Low</text>
<path d="M167.2 872.2V1237.5M151.6 1234.5H710.4M151.6 874.6H167.2M151.6 994.2H167.2M151.6 1114.4H167.2M151.6 1234.3H167.2M199.9 1234.5V1249.2M256.2 1234.5V1249.2M339 1234.5V1249.2M395.7 1234.5V1249.2M478.7 1234.5V1249.2M535.3 1234.5V1249.2M618.2 1234.5V1249.2M674.6 1234.5V1249.2" class="ax"/>
<path d="M437.2 873.9V1234" class="vd"/>
<g fill="#EDB676"><circle cx="199.8" cy="964.7" r="5.9"/><circle cx="203.5" cy="973.7" r="5.9"/><circle cx="196.1" cy="979.4" r="5.9"/><circle cx="202.7" cy="981" r="5.9"/><circle cx="196.9" cy="986.7" r="5.9"/><circle cx="201.8" cy="990.8" r="5.9"/><circle cx="196.9" cy="995.7" r="5.9"/><circle cx="202.7" cy="999" r="5.9"/><circle cx="199.4" cy="1003.9" r="5.9"/><circle cx="198.6" cy="1012.1" r="5.9"/><circle cx="191.2" cy="1020.2" r="5.9"/><circle cx="201" cy="1017" r="5.9"/><circle cx="209.2" cy="1015.3" r="5.9"/><circle cx="202.7" cy="1023.5" r="5.9"/><circle cx="209.2" cy="1020.2" r="5.9"/><circle cx="200.2" cy="1030.8" r="5.9"/><circle cx="199.4" cy="1036.6" r="5.9"/><circle cx="193" cy="1025" r="5.9"/><circle cx="194.5" cy="1049.8" r="5.9"/><circle cx="204.3" cy="1049.8" r="5.9"/><circle cx="192.9" cy="1058.8" r="5.9"/><circle cx="202.7" cy="1058.8" r="5.9"/><circle cx="210.8" cy="1061.2" r="5.9"/><circle cx="188.8" cy="1066.9" r="5.9"/><circle cx="198.6" cy="1066.1" r="5.9"/><circle cx="207.6" cy="1067.8" r="5.9"/><circle cx="190.4" cy="1075.9" r="5.9"/><circle cx="199.4" cy="1075.9" r="5.9"/><circle cx="210" cy="1075.9" r="5.9"/><circle cx="194.5" cy="1080.8" r="5.9"/><circle cx="201" cy="1087.4" r="5.9"/><circle cx="196.9" cy="1092.3" r="5.9"/><circle cx="197.8" cy="1102.1" r="5.9"/><circle cx="205.1" cy="1107" r="5.9"/><circle cx="193.7" cy="1112.7" r="5.9"/><circle cx="198" cy="1043" r="5.9"/><circle cx="198" cy="1055" r="5.9"/></g><g fill="#FEC77E"><circle cx="199.8" cy="964.7" r="5"/><circle cx="203.5" cy="973.7" r="5"/><circle cx="196.1" cy="979.4" r="5"/><circle cx="202.7" cy="981" r="5"/><circle cx="196.9" cy="986.7" r="5"/><circle cx="201.8" cy="990.8" r="5"/><circle cx="196.9" cy="995.7" r="5"/><circle cx="202.7" cy="999" r="5"/><circle cx="199.4" cy="1003.9" r="5"/><circle cx="198.6" cy="1012.1" r="5"/><circle cx="191.2" cy="1020.2" r="5"/><circle cx="201" cy="1017" r="5"/><circle cx="209.2" cy="1015.3" r="5"/><circle cx="202.7" cy="1023.5" r="5"/><circle cx="209.2" cy="1020.2" r="5"/><circle cx="200.2" cy="1030.8" r="5"/><circle cx="199.4" cy="1036.6" r="5"/><circle cx="193" cy="1025" r="5"/><circle cx="194.5" cy="1049.8" r="5"/><circle cx="204.3" cy="1049.8" r="5"/><circle cx="192.9" cy="1058.8" r="5"/><circle cx="202.7" cy="1058.8" r="5"/><circle cx="210.8" cy="1061.2" r="5"/><circle cx="188.8" cy="1066.9" r="5"/><circle cx="198.6" cy="1066.1" r="5"/><circle cx="207.6" cy="1067.8" r="5"/><circle cx="190.4" cy="1075.9" r="5"/><circle cx="199.4" cy="1075.9" r="5"/><circle cx="210" cy="1075.9" r="5"/><circle cx="194.5" cy="1080.8" r="5"/><circle cx="201" cy="1087.4" r="5"/><circle cx="196.9" cy="1092.3" r="5"/><circle cx="197.8" cy="1102.1" r="5"/><circle cx="205.1" cy="1107" r="5"/><circle cx="193.7" cy="1112.7" r="5"/><circle cx="198" cy="1043" r="5"/><circle cx="198" cy="1055" r="5"/></g>
<g fill="#EDB676"><circle cx="256.6" cy="957.3" r="5.9"/><circle cx="258.2" cy="976.1" r="5.9"/><circle cx="255.7" cy="984.3" r="5.9"/><circle cx="253.3" cy="992.5" r="5.9"/><circle cx="259.8" cy="994.1" r="5.9"/><circle cx="255.7" cy="1000.6" r="5.9"/><circle cx="254.1" cy="1007.2" r="5.9"/><circle cx="259.8" cy="1007.2" r="5.9"/><circle cx="255.7" cy="1013.7" r="5.9"/><circle cx="258.2" cy="1021.9" r="5.9"/><circle cx="256.6" cy="1028.4" r="5.9"/><circle cx="255.7" cy="1038.2" r="5.9"/><circle cx="248.4" cy="1043.9" r="5.9"/><circle cx="263.1" cy="1043.9" r="5.9"/><circle cx="248.4" cy="1044.9" r="5.9"/><circle cx="259.8" cy="1044.9" r="5.9"/><circle cx="255.7" cy="1052.2" r="5.9"/><circle cx="245.1" cy="1060.4" r="5.9"/><circle cx="255.7" cy="1059.6" r="5.9"/><circle cx="267.2" cy="1061.2" r="5.9"/><circle cx="251.7" cy="1066.9" r="5.9"/><circle cx="263.9" cy="1066.1" r="5.9"/><circle cx="251.7" cy="1074.3" r="5.9"/><circle cx="258.2" cy="1089" r="5.9"/><circle cx="254.9" cy="1097.2" r="5.9"/><circle cx="256.6" cy="1107" r="5.9"/><circle cx="256" cy="968" r="5.9"/><circle cx="256" cy="1081" r="5.9"/></g><g fill="#FEC77E"><circle cx="256.6" cy="957.3" r="5"/><circle cx="258.2" cy="976.1" r="5"/><circle cx="255.7" cy="984.3" r="5"/><circle cx="253.3" cy="992.5" r="5"/><circle cx="259.8" cy="994.1" r="5"/><circle cx="255.7" cy="1000.6" r="5"/><circle cx="254.1" cy="1007.2" r="5"/><circle cx="259.8" cy="1007.2" r="5"/><circle cx="255.7" cy="1013.7" r="5"/><circle cx="258.2" cy="1021.9" r="5"/><circle cx="256.6" cy="1028.4" r="5"/><circle cx="255.7" cy="1038.2" r="5"/><circle cx="248.4" cy="1043.9" r="5"/><circle cx="263.1" cy="1043.9" r="5"/><circle cx="248.4" cy="1044.9" r="5"/><circle cx="259.8" cy="1044.9" r="5"/><circle cx="255.7" cy="1052.2" r="5"/><circle cx="245.1" cy="1060.4" r="5"/><circle cx="255.7" cy="1059.6" r="5"/><circle cx="267.2" cy="1061.2" r="5"/><circle cx="251.7" cy="1066.9" r="5"/><circle cx="263.9" cy="1066.1" r="5"/><circle cx="251.7" cy="1074.3" r="5"/><circle cx="258.2" cy="1089" r="5"/><circle cx="254.9" cy="1097.2" r="5"/><circle cx="256.6" cy="1107" r="5"/><circle cx="256" cy="968" r="5"/><circle cx="256" cy="1081" r="5"/></g>
<g fill="#079F07"><circle cx="344.3" cy="972" r="5.9"/><circle cx="328" cy="982.7" r="5.9"/><circle cx="349.2" cy="981" r="5.9"/><circle cx="348.4" cy="986.7" r="5.9"/><circle cx="328" cy="995.7" r="5.9"/><circle cx="339.4" cy="995.7" r="5.9"/><circle cx="349.2" cy="994.1" r="5.9"/><circle cx="338.6" cy="1003.1" r="5.9"/><circle cx="328.8" cy="1012.9" r="5.9"/><circle cx="344.3" cy="1007.2" r="5.9"/><circle cx="350" cy="1012.9" r="5.9"/><circle cx="338.6" cy="1021" r="5.9"/><circle cx="348.4" cy="1024.3" r="5.9"/><circle cx="328.8" cy="1029.2" r="5.9"/><circle cx="342.7" cy="1030" r="5.9"/><circle cx="328.8" cy="1041.5" r="5.9"/><circle cx="337.8" cy="1040.6" r="5.9"/><circle cx="349.2" cy="1041.5" r="5.9"/><circle cx="328.8" cy="1044.9" r="5.9"/><circle cx="338.6" cy="1044.9" r="5.9"/><circle cx="349.2" cy="1044.1" r="5.9"/><circle cx="332.9" cy="1052.2" r="5.9"/><circle cx="344.3" cy="1052.2" r="5.9"/><circle cx="349.2" cy="1063.7" r="5.9"/><circle cx="338.6" cy="1067.8" r="5.9"/><circle cx="328.8" cy="1073.5" r="5.9"/><circle cx="349.2" cy="1075.9" r="5.9"/><circle cx="341" cy="1078.4" r="5.9"/><circle cx="332" cy="1083.3" r="5.9"/><circle cx="328" cy="1089" r="5.9"/><circle cx="339.4" cy="1089.8" r="5.9"/><circle cx="349.2" cy="1093.1" r="5.9"/><circle cx="332.9" cy="1096.3" r="5.9"/><circle cx="338.6" cy="1107" r="5.9"/><circle cx="333.7" cy="1116.8" r="5.9"/><circle cx="344.3" cy="1115.1" r="5.9"/><circle cx="337" cy="1060" r="5.9"/></g><g fill="#0ACB0A"><circle cx="344.3" cy="972" r="5"/><circle cx="328" cy="982.7" r="5"/><circle cx="349.2" cy="981" r="5"/><circle cx="348.4" cy="986.7" r="5"/><circle cx="328" cy="995.7" r="5"/><circle cx="339.4" cy="995.7" r="5"/><circle cx="349.2" cy="994.1" r="5"/><circle cx="338.6" cy="1003.1" r="5"/><circle cx="328.8" cy="1012.9" r="5"/><circle cx="344.3" cy="1007.2" r="5"/><circle cx="350" cy="1012.9" r="5"/><circle cx="338.6" cy="1021" r="5"/><circle cx="348.4" cy="1024.3" r="5"/><circle cx="328.8" cy="1029.2" r="5"/><circle cx="342.7" cy="1030" r="5"/><circle cx="328.8" cy="1041.5" r="5"/><circle cx="337.8" cy="1040.6" r="5"/><circle cx="349.2" cy="1041.5" r="5"/><circle cx="328.8" cy="1044.9" r="5"/><circle cx="338.6" cy="1044.9" r="5"/><circle cx="349.2" cy="1044.1" r="5"/><circle cx="332.9" cy="1052.2" r="5"/><circle cx="344.3" cy="1052.2" r="5"/><circle cx="349.2" cy="1063.7" r="5"/><circle cx="338.6" cy="1067.8" r="5"/><circle cx="328.8" cy="1073.5" r="5"/><circle cx="349.2" cy="1075.9" r="5"/><circle cx="341" cy="1078.4" r="5"/><circle cx="332" cy="1083.3" r="5"/><circle cx="328" cy="1089" r="5"/><circle cx="339.4" cy="1089.8" r="5"/><circle cx="349.2" cy="1093.1" r="5"/><circle cx="332.9" cy="1096.3" r="5"/><circle cx="338.6" cy="1107" r="5"/><circle cx="333.7" cy="1116.8" r="5"/><circle cx="344.3" cy="1115.1" r="5"/><circle cx="337" cy="1060" r="5"/></g>
<g fill="#079F07"><circle cx="393.3" cy="968.8" r="5.9"/><circle cx="399.8" cy="973.7" r="5.9"/><circle cx="408" cy="977.8" r="5.9"/><circle cx="385.1" cy="984.3" r="5.9"/><circle cx="394.9" cy="984.3" r="5.9"/><circle cx="403.9" cy="984.3" r="5.9"/><circle cx="393.3" cy="992.5" r="5.9"/><circle cx="398.2" cy="995.7" r="5.9"/><circle cx="391.7" cy="1002.3" r="5.9"/><circle cx="399.8" cy="1003.1" r="5.9"/><circle cx="393.3" cy="1010.4" r="5.9"/><circle cx="399" cy="1012.1" r="5.9"/><circle cx="394.9" cy="1023.5" r="5.9"/><circle cx="401.5" cy="1025.9" r="5.9"/><circle cx="393.3" cy="1032.5" r="5.9"/><circle cx="403.1" cy="1036.6" r="5.9"/><circle cx="390" cy="1039.8" r="5.9"/><circle cx="398.2" cy="1046.4" r="5.9"/><circle cx="388.4" cy="1042.4" r="5.9"/><circle cx="403.1" cy="1040.8" r="5.9"/><circle cx="395.7" cy="1049.8" r="5.9"/><circle cx="394.1" cy="1058" r="5.9"/><circle cx="385.1" cy="1064.5" r="5.9"/><circle cx="394.9" cy="1073.5" r="5.9"/><circle cx="406.4" cy="1071" r="5.9"/><circle cx="397.4" cy="1082.5" r="5.9"/><circle cx="395.7" cy="1090.6" r="5.9"/><circle cx="394.1" cy="1102.1" r="5.9"/><circle cx="400.6" cy="1104.5" r="5.9"/><circle cx="390.8" cy="1109.4" r="5.9"/><circle cx="396" cy="1017" r="5.9"/></g><g fill="#0ACB0A"><circle cx="393.3" cy="968.8" r="5"/><circle cx="399.8" cy="973.7" r="5"/><circle cx="408" cy="977.8" r="5"/><circle cx="385.1" cy="984.3" r="5"/><circle cx="394.9" cy="984.3" r="5"/><circle cx="403.9" cy="984.3" r="5"/><circle cx="393.3" cy="992.5" r="5"/><circle cx="398.2" cy="995.7" r="5"/><circle cx="391.7" cy="1002.3" r="5"/><circle cx="399.8" cy="1003.1" r="5"/><circle cx="393.3" cy="1010.4" r="5"/><circle cx="399" cy="1012.1" r="5"/><circle cx="394.9" cy="1023.5" r="5"/><circle cx="401.5" cy="1025.9" r="5"/><circle cx="393.3" cy="1032.5" r="5"/><circle cx="403.1" cy="1036.6" r="5"/><circle cx="390" cy="1039.8" r="5"/><circle cx="398.2" cy="1046.4" r="5"/><circle cx="388.4" cy="1042.4" r="5"/><circle cx="403.1" cy="1040.8" r="5"/><circle cx="395.7" cy="1049.8" r="5"/><circle cx="394.1" cy="1058" r="5"/><circle cx="385.1" cy="1064.5" r="5"/><circle cx="394.9" cy="1073.5" r="5"/><circle cx="406.4" cy="1071" r="5"/><circle cx="397.4" cy="1082.5" r="5"/><circle cx="395.7" cy="1090.6" r="5"/><circle cx="394.1" cy="1102.1" r="5"/><circle cx="400.6" cy="1104.5" r="5"/><circle cx="390.8" cy="1109.4" r="5"/><circle cx="396" cy="1017" r="5"/></g>
<g fill="#DA6E76"><circle cx="477.9" cy="1016.7" r="5.9"/><circle cx="472.1" cy="1035.5" r="5.9"/><circle cx="467.2" cy="1043.7" r="5.9"/><circle cx="480.3" cy="1042.1" r="5.9"/><circle cx="489.3" cy="1047" r="5.9"/><circle cx="472" cy="1050" r="5.9"/><circle cx="479.5" cy="1055.1" r="5.9"/><circle cx="477.9" cy="1069" r="5.9"/><circle cx="477.9" cy="1088.4" r="5.9"/><circle cx="475.4" cy="1114.1" r="5.9"/><circle cx="481.9" cy="1118.2" r="5.9"/><circle cx="477.9" cy="1132.1" r="5.9"/></g><g fill="#F77A7E"><circle cx="477.9" cy="1016.7" r="5"/><circle cx="472.1" cy="1035.5" r="5"/><circle cx="467.2" cy="1043.7" r="5"/><circle cx="480.3" cy="1042.1" r="5"/><circle cx="489.3" cy="1047" r="5"/><circle cx="472" cy="1050" r="5"/><circle cx="479.5" cy="1055.1" r="5"/><circle cx="477.9" cy="1069" r="5"/><circle cx="477.9" cy="1088.4" r="5"/><circle cx="475.4" cy="1114.1" r="5"/><circle cx="481.9" cy="1118.2" r="5"/><circle cx="477.9" cy="1132.1" r="5"/></g>
<g fill="#DA6E76"><circle cx="535.8" cy="988.6" r="5.9"/><circle cx="530.1" cy="1011.8" r="5.9"/><circle cx="545.6" cy="1019.2" r="5.9"/><circle cx="539.1" cy="1024.1" r="5.9"/><circle cx="525.2" cy="1029" r="5.9"/><circle cx="532" cy="1027" r="5.9"/><circle cx="535.8" cy="1047.8" r="5.9"/><circle cx="530.1" cy="1054.3" r="5.9"/><circle cx="536.7" cy="1060" r="5.9"/><circle cx="535.8" cy="1086.7" r="5.9"/><circle cx="535.8" cy="1099.4" r="5.9"/><circle cx="530.1" cy="1110.8" r="5.9"/><circle cx="541.6" cy="1109.2" r="5.9"/></g><g fill="#F77A7E"><circle cx="535.8" cy="988.6" r="5"/><circle cx="530.1" cy="1011.8" r="5"/><circle cx="545.6" cy="1019.2" r="5"/><circle cx="539.1" cy="1024.1" r="5"/><circle cx="525.2" cy="1029" r="5"/><circle cx="532" cy="1027" r="5"/><circle cx="535.8" cy="1047.8" r="5"/><circle cx="530.1" cy="1054.3" r="5"/><circle cx="536.7" cy="1060" r="5"/><circle cx="535.8" cy="1086.7" r="5"/><circle cx="535.8" cy="1099.4" r="5"/><circle cx="530.1" cy="1110.8" r="5"/><circle cx="541.6" cy="1109.2" r="5"/></g>
<g fill="#3B3BC4"><circle cx="617.9" cy="981.4" r="5.9"/><circle cx="617.9" cy="1002.7" r="5.9"/><circle cx="607.2" cy="1021.5" r="5.9"/><circle cx="629.3" cy="1025.5" r="5.9"/><circle cx="617.9" cy="1030.4" r="5.9"/><circle cx="607.2" cy="1034.1" r="5.9"/><circle cx="629.3" cy="1039.8" r="5.9"/><circle cx="607.2" cy="1047.2" r="5.9"/><circle cx="617.9" cy="1047.2" r="5.9"/><circle cx="617.9" cy="1080.8" r="5.9"/><circle cx="629.3" cy="1077.2" r="5.9"/><circle cx="629.3" cy="1089" r="5.9"/><circle cx="617.9" cy="1098.8" r="5.9"/><circle cx="617.9" cy="1135.1" r="5.9"/></g><g fill="#5252EE"><circle cx="617.9" cy="981.4" r="5"/><circle cx="617.9" cy="1002.7" r="5"/><circle cx="607.2" cy="1021.5" r="5"/><circle cx="629.3" cy="1025.5" r="5"/><circle cx="617.9" cy="1030.4" r="5"/><circle cx="607.2" cy="1034.1" r="5"/><circle cx="629.3" cy="1039.8" r="5"/><circle cx="607.2" cy="1047.2" r="5"/><circle cx="617.9" cy="1047.2" r="5"/><circle cx="617.9" cy="1080.8" r="5"/><circle cx="629.3" cy="1077.2" r="5"/><circle cx="629.3" cy="1089" r="5"/><circle cx="617.9" cy="1098.8" r="5"/><circle cx="617.9" cy="1135.1" r="5"/></g>
<g fill="#3B3BC4"><circle cx="675" cy="965.1" r="5.9"/><circle cx="685.6" cy="976.1" r="5.9"/><circle cx="675" cy="981" r="5.9"/><circle cx="664.4" cy="1004.7" r="5.9"/><circle cx="675" cy="1010.4" r="5.9"/><circle cx="664.4" cy="1021" r="5.9"/><circle cx="685.6" cy="1020.2" r="5.9"/><circle cx="675" cy="1028.8" r="5.9"/><circle cx="675" cy="1039.4" r="5.9"/><circle cx="664.4" cy="1067.8" r="5.9"/><circle cx="685.6" cy="1071.8" r="5.9"/><circle cx="675" cy="1078" r="5.9"/><circle cx="675" cy="1091" r="5.9"/><circle cx="675" cy="1117.2" r="5.9"/></g><g fill="#5252EE"><circle cx="675" cy="965.1" r="5"/><circle cx="685.6" cy="976.1" r="5"/><circle cx="675" cy="981" r="5"/><circle cx="664.4" cy="1004.7" r="5"/><circle cx="675" cy="1010.4" r="5"/><circle cx="664.4" cy="1021" r="5"/><circle cx="685.6" cy="1020.2" r="5"/><circle cx="675" cy="1028.8" r="5"/><circle cx="675" cy="1039.4" r="5"/><circle cx="664.4" cy="1067.8" r="5"/><circle cx="685.6" cy="1071.8" r="5"/><circle cx="675" cy="1078" r="5"/><circle cx="675" cy="1091" r="5"/><circle cx="675" cy="1117.2" r="5"/></g>
<path d="M183.6 1030.4H215.6M240.5 1024.3H272.5M323 1030.8H355M380.1 1020.2H412.1M462.5 1056.8H494.5M519.4 1038.4H551.4M602.5 1037.4H634.5M659 1017H691" class="md"/>
<path d="M198 926V907H249.9V926" class="br"/>
<text x="186.9" y="905.56" font-size="61.4" class="st">*</text>
<text x="220.8" y="905.56" font-size="61.4" class="st">*</text>
<text x="255.7" y="905.56" font-size="61.4" class="st">*</text>
<path d="M333.8 945.6V927.9H391.3V945.6" class="br"/>
<text x="306.9" y="926.46" font-size="61.4" class="st">*</text>
<text x="340.9" y="926.46" font-size="61.4" class="st">*</text>
<text x="375.8" y="926.46" font-size="61.4" class="st">*</text>
<text x="410" y="926.46" font-size="61.4" class="st">*</text>
<path d="M478.1 974.8V957.1H533.8V974.8" class="br"/>
<text x="486.7" y="955.46" font-size="61.4" class="st">*</text>
<text x="521.9" y="955.46" font-size="61.4" class="st">*</text>
<path d="M618.2 947.8V930.2H677V947.8" class="br"/>
<text x="646.8" y="929.56" font-size="61.4" class="st">*</text></g>
<g id="pD"><text transform="translate(931.46,759.77) scale(1.0234,1)" font-size="47.85" class="b">(D)</text>
<text transform="translate(908.4,1246.02) rotate(-90) scale(0.9479,1)" font-size="50.86" class="b">Eotaxin 3 (pg/mL)</text>
<text transform="translate(936.1,900) scale(0.9050,1)" font-size="50.85" class="b">10</text>
<text transform="translate(990.86,884.8) scale(0.96,1)" font-size="34.3" class="b">4</text>
<text transform="translate(936.1,987.8) scale(0.9050,1)" font-size="50.85" class="b">10</text>
<text transform="translate(992.39,972.23) scale(0.96,1)" font-size="33.26" class="b">3</text>
<text transform="translate(936.1,1075.7) scale(0.9050,1)" font-size="50.85" class="b">10</text>
<text transform="translate(992.25,1060.5) scale(0.96,1)" font-size="33.8" class="b">2</text>
<text transform="translate(936.1,1163.5) scale(0.9050,1)" font-size="50.85" class="b">10</text>
<text transform="translate(991.6,1148.3) scale(0.96,1)" font-size="34.3" class="b">1</text>
<text transform="translate(936.1,1250.8) scale(0.9050,1)" font-size="50.85" class="b">10</text>
<text transform="translate(992.52,1235.27) scale(0.96,1)" font-size="33.33" class="b">0</text>
<text x="1050.16" y="1291.97" font-size="44.07" class="b">0</text>
<text transform="translate(1086.49,1291.91) scale(0.9877,1)" font-size="43.98" class="b">2-3</text>
<text transform="translate(1185.23,1291.97) scale(0.9591,1)" font-size="44.07" class="b">0</text>
<text transform="translate(1221.6,1291.91) scale(0.9810,1)" font-size="43.98" class="b">2-3</text>
<text transform="translate(1321.34,1291.97) scale(0.9543,1)" font-size="44.07" class="b">0</text>
<text transform="translate(1358.22,1291.91) scale(0.9728,1)" font-size="43.98" class="b">2-3</text>
<text transform="translate(1457.52,1291.97) scale(0.9638,1)" font-size="44.07" class="b">0</text>
<text transform="translate(1493.72,1291.91) scale(0.9728,1)" font-size="43.98" class="b">2-3</text>
<text transform="translate(1018.9,1338.2) scale(1.0445,1)" font-size="32.71" class="r">Melatonin</text>
<text transform="translate(1184.28,1338.2) scale(1.0385,1)" font-size="32.71" class="r">Control</text>
<text transform="translate(1310.4,1340.3) scale(1.0335,1)" font-size="32.98" class="r">Melatonin</text>
<text transform="translate(1473.48,1339.3) scale(1.0197,1)" font-size="33.12" class="r">Control</text>
<text transform="translate(1118.37,1388.9) scale(1.0235,1)" font-size="47.2" class="b">High</text>
<text transform="translate(1398.93,1392.5) scale(0.9884,1)" font-size="49.42" class="b">Low</text>
<path d="M1030.2 880.1V1235.5M1014.6 1232.5H1557.7M1014.6 881.5H1030.2M1014.6 969.3H1030.2M1014.6 1057.2H1030.2M1014.6 1145H1030.2M1014.6 1232.3H1030.2M1061.9 1232.5V1247.2M1116.6 1232.5V1247.2M1197.4 1232.5V1247.2M1252.9 1232.5V1247.2M1333 1232.5V1247.2M1388.3 1232.5V1247.2M1468.5 1232.5V1247.2M1523.8 1232.5V1247.2" class="ax"/>
<path d="M1293 882.7V1232" class="vd"/>
<g fill="#EDB676"><circle cx="1061.4" cy="1052" r="5.9"/><circle cx="1061.4" cy="1067.6" r="5.9"/><circle cx="1065.9" cy="1077.4" r="5.9"/><circle cx="1054.5" cy="1083.1" r="5.9"/><circle cx="1064.3" cy="1083.9" r="5.9"/><circle cx="1057" cy="1091.2" r="5.9"/><circle cx="1068.4" cy="1090.4" r="5.9"/><circle cx="1062.7" cy="1097" r="5.9"/><circle cx="1055.3" cy="1105.1" r="5.9"/><circle cx="1066.7" cy="1108.4" r="5.9"/><circle cx="1058.6" cy="1115.7" r="5.9"/><circle cx="1068.4" cy="1114.9" r="5.9"/><circle cx="1052.9" cy="1125.5" r="5.9"/><circle cx="1062.7" cy="1123.9" r="5.9"/><circle cx="1070.8" cy="1126.4" r="5.9"/><circle cx="1062" cy="1104" r="5.9"/><circle cx="1054.5" cy="1123.3" r="5.9"/><circle cx="1064.3" cy="1123.3" r="5.9"/><circle cx="1051.2" cy="1131.4" r="5.9"/><circle cx="1061" cy="1130.6" r="5.9"/><circle cx="1071.6" cy="1132.2" r="5.9"/><circle cx="1055.3" cy="1144.5" r="5.9"/><circle cx="1064.3" cy="1144.5" r="5.9"/><circle cx="1057" cy="1154.3" r="5.9"/><circle cx="1067.6" cy="1155.1" r="5.9"/><circle cx="1052" cy="1165.7" r="5.9"/><circle cx="1061" cy="1164.1" r="5.9"/><circle cx="1070" cy="1166.5" r="5.9"/><circle cx="1061" cy="1138" r="5.9"/><circle cx="1062" cy="1158" r="5.9"/></g><g fill="#FEC77E"><circle cx="1061.4" cy="1052" r="5"/><circle cx="1061.4" cy="1067.6" r="5"/><circle cx="1065.9" cy="1077.4" r="5"/><circle cx="1054.5" cy="1083.1" r="5"/><circle cx="1064.3" cy="1083.9" r="5"/><circle cx="1057" cy="1091.2" r="5"/><circle cx="1068.4" cy="1090.4" r="5"/><circle cx="1062.7" cy="1097" r="5"/><circle cx="1055.3" cy="1105.1" r="5"/><circle cx="1066.7" cy="1108.4" r="5"/><circle cx="1058.6" cy="1115.7" r="5"/><circle cx="1068.4" cy="1114.9" r="5"/><circle cx="1052.9" cy="1125.5" r="5"/><circle cx="1062.7" cy="1123.9" r="5"/><circle cx="1070.8" cy="1126.4" r="5"/><circle cx="1062" cy="1104" r="5"/><circle cx="1054.5" cy="1123.3" r="5"/><circle cx="1064.3" cy="1123.3" r="5"/><circle cx="1051.2" cy="1131.4" r="5"/><circle cx="1061" cy="1130.6" r="5"/><circle cx="1071.6" cy="1132.2" r="5"/><circle cx="1055.3" cy="1144.5" r="5"/><circle cx="1064.3" cy="1144.5" r="5"/><circle cx="1057" cy="1154.3" r="5"/><circle cx="1067.6" cy="1155.1" r="5"/><circle cx="1052" cy="1165.7" r="5"/><circle cx="1061" cy="1164.1" r="5"/><circle cx="1070" cy="1166.5" r="5"/><circle cx="1061" cy="1138" r="5"/><circle cx="1062" cy="1158" r="5"/></g>
<g fill="#EDB676"><circle cx="1116.6" cy="1052.9" r="5.9"/><circle cx="1116.6" cy="1059.4" r="5.9"/><circle cx="1117.4" cy="1070.8" r="5.9"/><circle cx="1112.5" cy="1082.3" r="5.9"/><circle cx="1119.8" cy="1082.3" r="5.9"/><circle cx="1110" cy="1092.1" r="5.9"/><circle cx="1118.2" cy="1092.1" r="5.9"/><circle cx="1125.5" cy="1091.2" r="5.9"/><circle cx="1116.6" cy="1101.9" r="5.9"/><circle cx="1111.7" cy="1111.7" r="5.9"/><circle cx="1121.5" cy="1113.3" r="5.9"/><circle cx="1108.4" cy="1119.8" r="5.9"/><circle cx="1116.6" cy="1119.8" r="5.9"/><circle cx="1124.7" cy="1119.8" r="5.9"/><circle cx="1111.7" cy="1128" r="5.9"/><circle cx="1110" cy="1122.4" r="5.9"/><circle cx="1124.7" cy="1121.6" r="5.9"/><circle cx="1105.9" cy="1133.1" r="5.9"/><circle cx="1116.6" cy="1132.2" r="5.9"/><circle cx="1127.2" cy="1133.1" r="5.9"/><circle cx="1111.7" cy="1142.9" r="5.9"/><circle cx="1121.5" cy="1144.5" r="5.9"/><circle cx="1112.5" cy="1154.3" r="5.9"/><circle cx="1120.6" cy="1155.1" r="5.9"/><circle cx="1112.5" cy="1160.8" r="5.9"/><circle cx="1116.6" cy="1172.3" r="5.9"/><circle cx="1116.6" cy="1191.9" r="5.9"/><circle cx="1116" cy="1106" r="5.9"/><circle cx="1118" cy="1138" r="5.9"/></g><g fill="#FEC77E"><circle cx="1116.6" cy="1052.9" r="5"/><circle cx="1116.6" cy="1059.4" r="5"/><circle cx="1117.4" cy="1070.8" r="5"/><circle cx="1112.5" cy="1082.3" r="5"/><circle cx="1119.8" cy="1082.3" r="5"/><circle cx="1110" cy="1092.1" r="5"/><circle cx="1118.2" cy="1092.1" r="5"/><circle cx="1125.5" cy="1091.2" r="5"/><circle cx="1116.6" cy="1101.9" r="5"/><circle cx="1111.7" cy="1111.7" r="5"/><circle cx="1121.5" cy="1113.3" r="5"/><circle cx="1108.4" cy="1119.8" r="5"/><circle cx="1116.6" cy="1119.8" r="5"/><circle cx="1124.7" cy="1119.8" r="5"/><circle cx="1111.7" cy="1128" r="5"/><circle cx="1110" cy="1122.4" r="5"/><circle cx="1124.7" cy="1121.6" r="5"/><circle cx="1105.9" cy="1133.1" r="5"/><circle cx="1116.6" cy="1132.2" r="5"/><circle cx="1127.2" cy="1133.1" r="5"/><circle cx="1111.7" cy="1142.9" r="5"/><circle cx="1121.5" cy="1144.5" r="5"/><circle cx="1112.5" cy="1154.3" r="5"/><circle cx="1120.6" cy="1155.1" r="5"/><circle cx="1112.5" cy="1160.8" r="5"/><circle cx="1116.6" cy="1172.3" r="5"/><circle cx="1116.6" cy="1191.9" r="5"/><circle cx="1116" cy="1106" r="5"/><circle cx="1118" cy="1138" r="5"/></g>
<g fill="#079F07"><circle cx="1196.8" cy="918.8" r="5.9"/><circle cx="1196.8" cy="953.3" r="5.9"/><circle cx="1196.8" cy="1025.5" r="5.9"/><circle cx="1199.3" cy="1049.6" r="5.9"/><circle cx="1187" cy="1059.8" r="5.9"/><circle cx="1197.7" cy="1062.3" r="5.9"/><circle cx="1207.5" cy="1060.6" r="5.9"/><circle cx="1186.2" cy="1075.3" r="5.9"/><circle cx="1197.7" cy="1074.5" r="5.9"/><circle cx="1208.3" cy="1076.1" r="5.9"/><circle cx="1193.6" cy="1088.4" r="5.9"/><circle cx="1200.9" cy="1088.4" r="5.9"/><circle cx="1190.3" cy="1108" r="5.9"/><circle cx="1207.5" cy="1108.8" r="5.9"/><circle cx="1197" cy="1068" r="5.9"/><circle cx="1197" cy="1098" r="5.9"/><circle cx="1190.3" cy="1109" r="5.9"/><circle cx="1207.5" cy="1112.2" r="5.9"/><circle cx="1187" cy="1123.7" r="5.9"/><circle cx="1197.7" cy="1119.6" r="5.9"/><circle cx="1207.5" cy="1124.5" r="5.9"/><circle cx="1195.2" cy="1132.7" r="5.9"/><circle cx="1202.6" cy="1144.1" r="5.9"/><circle cx="1190.3" cy="1151.4" r="5.9"/><circle cx="1193.6" cy="1161.2" r="5.9"/><circle cx="1205.8" cy="1163.7" r="5.9"/><circle cx="1185.4" cy="1170.2" r="5.9"/><circle cx="1200.9" cy="1171.9" r="5.9"/><circle cx="1190.3" cy="1181.7" r="5.9"/><circle cx="1197" cy="1166" r="5.9"/><circle cx="1196" cy="1140" r="5.9"/></g><g fill="#0ACB0A"><circle cx="1196.8" cy="918.8" r="5"/><circle cx="1196.8" cy="953.3" r="5"/><circle cx="1196.8" cy="1025.5" r="5"/><circle cx="1199.3" cy="1049.6" r="5"/><circle cx="1187" cy="1059.8" r="5"/><circle cx="1197.7" cy="1062.3" r="5"/><circle cx="1207.5" cy="1060.6" r="5"/><circle cx="1186.2" cy="1075.3" r="5"/><circle cx="1197.7" cy="1074.5" r="5"/><circle cx="1208.3" cy="1076.1" r="5"/><circle cx="1193.6" cy="1088.4" r="5"/><circle cx="1200.9" cy="1088.4" r="5"/><circle cx="1190.3" cy="1108" r="5"/><circle cx="1207.5" cy="1108.8" r="5"/><circle cx="1197" cy="1068" r="5"/><circle cx="1197" cy="1098" r="5"/><circle cx="1190.3" cy="1109" r="5"/><circle cx="1207.5" cy="1112.2" r="5"/><circle cx="1187" cy="1123.7" r="5"/><circle cx="1197.7" cy="1119.6" r="5"/><circle cx="1207.5" cy="1124.5" r="5"/><circle cx="1195.2" cy="1132.7" r="5"/><circle cx="1202.6" cy="1144.1" r="5"/><circle cx="1190.3" cy="1151.4" r="5"/><circle cx="1193.6" cy="1161.2" r="5"/><circle cx="1205.8" cy="1163.7" r="5"/><circle cx="1185.4" cy="1170.2" r="5"/><circle cx="1200.9" cy="1171.9" r="5"/><circle cx="1190.3" cy="1181.7" r="5"/><circle cx="1197" cy="1166" r="5"/><circle cx="1196" cy="1140" r="5"/></g>
<g fill="#079F07"><circle cx="1252.5" cy="920.4" r="5.9"/><circle cx="1252.5" cy="981" r="5.9"/><circle cx="1252.4" cy="1032.9" r="5.9"/><circle cx="1246.7" cy="1056.5" r="5.9"/><circle cx="1258.9" cy="1055.7" r="5.9"/><circle cx="1252.4" cy="1062.3" r="5.9"/><circle cx="1245" cy="1075.3" r="5.9"/><circle cx="1252.4" cy="1070.4" r="5.9"/><circle cx="1260.5" cy="1074.5" r="5.9"/><circle cx="1251.6" cy="1081" r="5.9"/><circle cx="1257.3" cy="1083.5" r="5.9"/><circle cx="1247.5" cy="1090.8" r="5.9"/><circle cx="1254.8" cy="1091.7" r="5.9"/><circle cx="1249.9" cy="1099.8" r="5.9"/><circle cx="1253.2" cy="1103.9" r="5.9"/><circle cx="1249.1" cy="1108.8" r="5.9"/><circle cx="1251.6" cy="1101.6" r="5.9"/><circle cx="1248.3" cy="1113.1" r="5.9"/><circle cx="1257.3" cy="1119.6" r="5.9"/><circle cx="1251.6" cy="1125.3" r="5.9"/><circle cx="1241.8" cy="1133.5" r="5.9"/><circle cx="1251.6" cy="1135.1" r="5.9"/><circle cx="1263" cy="1133.5" r="5.9"/><circle cx="1246.7" cy="1142.5" r="5.9"/><circle cx="1254.8" cy="1149.8" r="5.9"/><circle cx="1246.7" cy="1161.2" r="5.9"/><circle cx="1258.9" cy="1159.6" r="5.9"/><circle cx="1251.6" cy="1169.4" r="5.9"/><circle cx="1250.7" cy="1177.6" r="5.9"/><circle cx="1255.6" cy="1178.4" r="5.9"/><circle cx="1250.7" cy="1185.7" r="5.9"/></g><g fill="#0ACB0A"><circle cx="1252.5" cy="920.4" r="5"/><circle cx="1252.5" cy="981" r="5"/><circle cx="1252.4" cy="1032.9" r="5"/><circle cx="1246.7" cy="1056.5" r="5"/><circle cx="1258.9" cy="1055.7" r="5"/><circle cx="1252.4" cy="1062.3" r="5"/><circle cx="1245" cy="1075.3" r="5"/><circle cx="1252.4" cy="1070.4" r="5"/><circle cx="1260.5" cy="1074.5" r="5"/><circle cx="1251.6" cy="1081" r="5"/><circle cx="1257.3" cy="1083.5" r="5"/><circle cx="1247.5" cy="1090.8" r="5"/><circle cx="1254.8" cy="1091.7" r="5"/><circle cx="1249.9" cy="1099.8" r="5"/><circle cx="1253.2" cy="1103.9" r="5"/><circle cx="1249.1" cy="1108.8" r="5"/><circle cx="1251.6" cy="1101.6" r="5"/><circle cx="1248.3" cy="1113.1" r="5"/><circle cx="1257.3" cy="1119.6" r="5"/><circle cx="1251.6" cy="1125.3" r="5"/><circle cx="1241.8" cy="1133.5" r="5"/><circle cx="1251.6" cy="1135.1" r="5"/><circle cx="1263" cy="1133.5" r="5"/><circle cx="1246.7" cy="1142.5" r="5"/><circle cx="1254.8" cy="1149.8" r="5"/><circle cx="1246.7" cy="1161.2" r="5"/><circle cx="1258.9" cy="1159.6" r="5"/><circle cx="1251.6" cy="1169.4" r="5"/><circle cx="1250.7" cy="1177.6" r="5"/><circle cx="1255.6" cy="1178.4" r="5"/><circle cx="1250.7" cy="1185.7" r="5"/></g>
<g fill="#DA6E76"><circle cx="1333.1" cy="1042.2" r="5.9"/><circle cx="1333.1" cy="1063.1" r="5.9"/><circle cx="1335.1" cy="1103.5" r="5.9"/><circle cx="1344.1" cy="1101.9" r="5.9"/><circle cx="1322" cy="1114.1" r="5.9"/><circle cx="1332.7" cy="1112.5" r="5.9"/><circle cx="1342.5" cy="1114.9" r="5.9"/><circle cx="1335.9" cy="1120.6" r="5.9"/><circle cx="1334.3" cy="1118.2" r="5.9"/><circle cx="1343.3" cy="1137.8" r="5.9"/><circle cx="1329.4" cy="1147.6" r="5.9"/><circle cx="1336.7" cy="1147.6" r="5.9"/><circle cx="1332.7" cy="1160.6" r="5.9"/><circle cx="1336.7" cy="1187.6" r="5.9"/><circle cx="1329.4" cy="1195.7" r="5.9"/></g><g fill="#F77A7E"><circle cx="1333.1" cy="1042.2" r="5"/><circle cx="1333.1" cy="1063.1" r="5"/><circle cx="1335.1" cy="1103.5" r="5"/><circle cx="1344.1" cy="1101.9" r="5"/><circle cx="1322" cy="1114.1" r="5"/><circle cx="1332.7" cy="1112.5" r="5"/><circle cx="1342.5" cy="1114.9" r="5"/><circle cx="1335.9" cy="1120.6" r="5"/><circle cx="1334.3" cy="1118.2" r="5"/><circle cx="1343.3" cy="1137.8" r="5"/><circle cx="1329.4" cy="1147.6" r="5"/><circle cx="1336.7" cy="1147.6" r="5"/><circle cx="1332.7" cy="1160.6" r="5"/><circle cx="1336.7" cy="1187.6" r="5"/><circle cx="1329.4" cy="1195.7" r="5"/></g>
<g fill="#DA6E76"><circle cx="1388.6" cy="1044.3" r="5.9"/><circle cx="1388.6" cy="1063.1" r="5.9"/><circle cx="1384.1" cy="1110" r="5.9"/><circle cx="1377.6" cy="1116.6" r="5.9"/><circle cx="1387.4" cy="1116.6" r="5.9"/><circle cx="1398.8" cy="1114.9" r="5.9"/><circle cx="1391.5" cy="1128" r="5.9"/><circle cx="1386.6" cy="1114.9" r="5.9"/><circle cx="1399.6" cy="1115.7" r="5.9"/><circle cx="1391.5" cy="1129.6" r="5.9"/><circle cx="1392.3" cy="1144.3" r="5.9"/><circle cx="1384.9" cy="1150.8" r="5.9"/><circle cx="1391.5" cy="1173.7" r="5.9"/><circle cx="1384.9" cy="1181.9" r="5.9"/></g><g fill="#F77A7E"><circle cx="1388.6" cy="1044.3" r="5"/><circle cx="1388.6" cy="1063.1" r="5"/><circle cx="1384.1" cy="1110" r="5"/><circle cx="1377.6" cy="1116.6" r="5"/><circle cx="1387.4" cy="1116.6" r="5"/><circle cx="1398.8" cy="1114.9" r="5"/><circle cx="1391.5" cy="1128" r="5"/><circle cx="1386.6" cy="1114.9" r="5"/><circle cx="1399.6" cy="1115.7" r="5"/><circle cx="1391.5" cy="1129.6" r="5"/><circle cx="1392.3" cy="1144.3" r="5"/><circle cx="1384.9" cy="1150.8" r="5"/><circle cx="1391.5" cy="1173.7" r="5"/><circle cx="1384.9" cy="1181.9" r="5"/></g>
<g fill="#3B3BC4"><circle cx="1468.9" cy="921.4" r="5.9"/><circle cx="1468.9" cy="1043.7" r="5.9"/><circle cx="1468.9" cy="1084.9" r="5.9"/><circle cx="1463.6" cy="1098.8" r="5.9"/><circle cx="1457.9" cy="1106.3" r="5.9"/><circle cx="1471.7" cy="1104.7" r="5.9"/><circle cx="1467.7" cy="1112.9" r="5.9"/><circle cx="1479.1" cy="1114.5" r="5.9"/><circle cx="1457.9" cy="1121.8" r="5.9"/><circle cx="1473.4" cy="1121.8" r="5.9"/><circle cx="1469.3" cy="1128.4" r="5.9"/><circle cx="1468.9" cy="1184.7" r="5.9"/></g><g fill="#5252EE"><circle cx="1468.9" cy="921.4" r="5"/><circle cx="1468.9" cy="1043.7" r="5"/><circle cx="1468.9" cy="1084.9" r="5"/><circle cx="1463.6" cy="1098.8" r="5"/><circle cx="1457.9" cy="1106.3" r="5"/><circle cx="1471.7" cy="1104.7" r="5"/><circle cx="1467.7" cy="1112.9" r="5"/><circle cx="1479.1" cy="1114.5" r="5"/><circle cx="1457.9" cy="1121.8" r="5"/><circle cx="1473.4" cy="1121.8" r="5"/><circle cx="1469.3" cy="1128.4" r="5"/><circle cx="1468.9" cy="1184.7" r="5"/></g>
<g fill="#3B3BC4"><circle cx="1523.5" cy="943.3" r="5.9"/><circle cx="1520.3" cy="1069.4" r="5.9"/><circle cx="1527.3" cy="1076.8" r="5.9"/><circle cx="1519.9" cy="1084.1" r="5.9"/><circle cx="1527.3" cy="1089.8" r="5.9"/><circle cx="1513.4" cy="1098.8" r="5.9"/><circle cx="1527.3" cy="1091.6" r="5.9"/><circle cx="1513.4" cy="1100.6" r="5.9"/><circle cx="1526.5" cy="1108" r="5.9"/><circle cx="1534.6" cy="1107.1" r="5.9"/><circle cx="1513.4" cy="1114.5" r="5.9"/><circle cx="1521.6" cy="1118.6" r="5.9"/><circle cx="1534.6" cy="1122.7" r="5.9"/><circle cx="1519.9" cy="1128.4" r="5.9"/><circle cx="1527.3" cy="1134.1" r="5.9"/><circle cx="1523.8" cy="1188.4" r="5.9"/></g><g fill="#5252EE"><circle cx="1523.5" cy="943.3" r="5"/><circle cx="1520.3" cy="1069.4" r="5"/><circle cx="1527.3" cy="1076.8" r="5"/><circle cx="1519.9" cy="1084.1" r="5"/><circle cx="1527.3" cy="1089.8" r="5"/><circle cx="1513.4" cy="1098.8" r="5"/><circle cx="1527.3" cy="1091.6" r="5"/><circle cx="1513.4" cy="1100.6" r="5"/><circle cx="1526.5" cy="1108" r="5"/><circle cx="1534.6" cy="1107.1" r="5"/><circle cx="1513.4" cy="1114.5" r="5"/><circle cx="1521.6" cy="1118.6" r="5"/><circle cx="1534.6" cy="1122.7" r="5"/><circle cx="1519.9" cy="1128.4" r="5"/><circle cx="1527.3" cy="1134.1" r="5"/><circle cx="1523.8" cy="1188.4" r="5"/></g>
<path d="M1045.8 1100.6H1077.8M1101 1104.7H1133M1181 1036H1213M1237 1042.3H1269M1316.9 1103.1H1348.9M1372.8 1103.9H1404.8M1453 1018H1485M1508 1036.9H1540" class="md"/>
<path d="M1060.4 1013.8V996.1H1110.7V1013.8" class="br"/>
<text x="1067.2" y="994.53" font-size="59.21" class="st">*</text>
<text x="1099.9" y="994.53" font-size="59.21" class="st">*</text>
<path d="M1193 896.2V879.3H1247.7V896.2" class="br"/>
<text x="1219.8" y="877.83" font-size="59.21" class="st">*</text></g>
<g id="pE"><text transform="translate(61.94,1464.45) scale(1.0524,1)" font-size="48.92" class="b">(E)</text>
<text transform="translate(43.8,1925.63) rotate(-90) scale(0.9710,1)" font-size="51.29" class="b">MCP-1 (pg/mL)</text>
<text transform="translate(71.91,1600.6) scale(0.9635,1)" font-size="50.85" class="b">10</text>
<text transform="translate(128.86,1585.4) scale(0.96,1)" font-size="34.3" class="b">4</text>
<text transform="translate(71.91,1721.6) scale(0.9635,1)" font-size="50.85" class="b">10</text>
<text transform="translate(130.39,1706.03) scale(0.96,1)" font-size="33.26" class="b">3</text>
<text transform="translate(71.91,1842.1) scale(0.9635,1)" font-size="50.85" class="b">10</text>
<text transform="translate(130.25,1826.9) scale(0.96,1)" font-size="33.8" class="b">2</text>
<text transform="translate(71.91,1962.4) scale(0.9635,1)" font-size="50.85" class="b">10</text>
<text transform="translate(129.6,1947.2) scale(0.96,1)" font-size="34.3" class="b">1</text>
<text x="190.11" y="2005.56" font-size="45.2" class="b">0</text>
<text transform="translate(227.86,2005.49) scale(0.9839,1)" font-size="45.1" class="b">2-3</text>
<text transform="translate(330.25,2005.56) scale(0.9816,1)" font-size="45.2" class="b">0</text>
<text transform="translate(367.55,2005.49) scale(0.9888,1)" font-size="45.1" class="b">2-3</text>
<text transform="translate(469.93,2005.56) scale(0.9909,1)" font-size="45.2" class="b">0</text>
<text transform="translate(506.42,2005.49) scale(1.0097,1)" font-size="45.1" class="b">2-3</text>
<text transform="translate(609.99,2005.56) scale(1.0142,1)" font-size="45.2" class="b">0</text>
<text transform="translate(647.45,2005.49) scale(0.9920,1)" font-size="45.1" class="b">2-3</text>
<text transform="translate(142.73,2052.6) scale(1.0537,1)" font-size="33.26" class="r">Melatonin</text>
<text transform="translate(324.22,2052.6) scale(1.0561,1)" font-size="33.26" class="r">Control</text>
<text transform="translate(459.82,2054.3) scale(1.0464,1)" font-size="33.54" class="r">Melatonin</text>
<text transform="translate(627.12,2053.9) scale(1.0203,1)" font-size="34.36" class="r">Control</text>
<text transform="translate(256.67,2113.9) scale(1.0125,1)" font-size="49.13" class="b">High</text>
<text transform="translate(550.14,2113.7) scale(0.9523,1)" font-size="52.76" class="b">Low</text>
<path d="M169.8 1580.8V1946.8M153.6 1943.8H714.3M153.6 1582.1H169.8M153.6 1703.1H169.8M153.6 1823.6H169.8M153.6 1943.9H169.8M202.3 1943.8V1958.8M259 1943.8V1958.8M342 1943.8V1958.8M398.9 1943.8V1958.8M481.9 1943.8V1958.8M539.2 1943.8V1958.8M621.8 1943.8V1958.8M678.9 1943.8V1958.8" class="ax"/>
<path d="M440.9 1582.9V1943" class="vd"/>
<g fill="#EDB676"><circle cx="205.1" cy="1679.8" r="5.9"/><circle cx="202.7" cy="1686.3" r="5.9"/><circle cx="198.6" cy="1690.4" r="5.9"/><circle cx="202.7" cy="1696.1" r="5.9"/><circle cx="197.8" cy="1702.7" r="5.9"/><circle cx="207.6" cy="1707.6" r="5.9"/><circle cx="201" cy="1709.2" r="5.9"/><circle cx="198.6" cy="1717.4" r="5.9"/><circle cx="205.1" cy="1715.7" r="5.9"/><circle cx="199.4" cy="1724.7" r="5.9"/><circle cx="204.3" cy="1725.5" r="5.9"/><circle cx="203" cy="1732" r="5.9"/><circle cx="204.3" cy="1739.4" r="5.9"/><circle cx="199.4" cy="1747.6" r="5.9"/><circle cx="205.9" cy="1748.4" r="5.9"/><circle cx="203" cy="1756" r="5.9"/><circle cx="194.5" cy="1766.4" r="5.9"/><circle cx="205.9" cy="1765.5" r="5.9"/><circle cx="212.5" cy="1768" r="5.9"/><circle cx="196.9" cy="1764" r="5.9"/><circle cx="208.4" cy="1765.6" r="5.9"/><circle cx="191.2" cy="1772.1" r="5.9"/><circle cx="201.8" cy="1771.3" r="5.9"/><circle cx="212.5" cy="1770.5" r="5.9"/><circle cx="196.9" cy="1777.9" r="5.9"/><circle cx="202.7" cy="1786" r="5.9"/><circle cx="201.8" cy="1797.5" r="5.9"/><circle cx="202" cy="1792" r="5.9"/><circle cx="203.5" cy="1813.8" r="5.9"/><circle cx="197.8" cy="1820.3" r="5.9"/><circle cx="201.8" cy="1831.8" r="5.9"/></g><g fill="#FEC77E"><circle cx="205.1" cy="1679.8" r="5"/><circle cx="202.7" cy="1686.3" r="5"/><circle cx="198.6" cy="1690.4" r="5"/><circle cx="202.7" cy="1696.1" r="5"/><circle cx="197.8" cy="1702.7" r="5"/><circle cx="207.6" cy="1707.6" r="5"/><circle cx="201" cy="1709.2" r="5"/><circle cx="198.6" cy="1717.4" r="5"/><circle cx="205.1" cy="1715.7" r="5"/><circle cx="199.4" cy="1724.7" r="5"/><circle cx="204.3" cy="1725.5" r="5"/><circle cx="203" cy="1732" r="5"/><circle cx="204.3" cy="1739.4" r="5"/><circle cx="199.4" cy="1747.6" r="5"/><circle cx="205.9" cy="1748.4" r="5"/><circle cx="203" cy="1756" r="5"/><circle cx="194.5" cy="1766.4" r="5"/><circle cx="205.9" cy="1765.5" r="5"/><circle cx="212.5" cy="1768" r="5"/><circle cx="196.9" cy="1764" r="5"/><circle cx="208.4" cy="1765.6" r="5"/><circle cx="191.2" cy="1772.1" r="5"/><circle cx="201.8" cy="1771.3" r="5"/><circle cx="212.5" cy="1770.5" r="5"/><circle cx="196.9" cy="1777.9" r="5"/><circle cx="202.7" cy="1786" r="5"/><circle cx="201.8" cy="1797.5" r="5"/><circle cx="202" cy="1792" r="5"/><circle cx="203.5" cy="1813.8" r="5"/><circle cx="197.8" cy="1820.3" r="5"/><circle cx="201.8" cy="1831.8" r="5"/></g>
<g fill="#EDB676"><circle cx="259" cy="1693.7" r="5.9"/><circle cx="251.7" cy="1704.3" r="5.9"/><circle cx="266.4" cy="1705.1" r="5.9"/><circle cx="259" cy="1702.7" r="5.9"/><circle cx="255.7" cy="1710.8" r="5.9"/><circle cx="265.5" cy="1708.4" r="5.9"/><circle cx="260.6" cy="1717.4" r="5.9"/><circle cx="256.6" cy="1725.5" r="5.9"/><circle cx="263.1" cy="1727.2" r="5.9"/><circle cx="262" cy="1737" r="5.9"/><circle cx="263.9" cy="1743.5" r="5.9"/><circle cx="258" cy="1750" r="5.9"/><circle cx="256.6" cy="1755.7" r="5.9"/><circle cx="251.7" cy="1766.4" r="5.9"/><circle cx="261.5" cy="1762.3" r="5.9"/><circle cx="269.6" cy="1767.2" r="5.9"/><circle cx="256.6" cy="1759.9" r="5.9"/><circle cx="268" cy="1766.4" r="5.9"/><circle cx="248.4" cy="1773" r="5.9"/><circle cx="259.8" cy="1773.8" r="5.9"/><circle cx="268" cy="1774.6" r="5.9"/><circle cx="255.7" cy="1782.8" r="5.9"/><circle cx="263.9" cy="1782" r="5.9"/><circle cx="255.7" cy="1795.8" r="5.9"/><circle cx="263.1" cy="1797.5" r="5.9"/><circle cx="259" cy="1789" r="5.9"/><circle cx="255.7" cy="1804" r="5.9"/><circle cx="259.8" cy="1813.8" r="5.9"/><circle cx="259.8" cy="1820.3" r="5.9"/><circle cx="257.4" cy="1830.1" r="5.9"/></g><g fill="#FEC77E"><circle cx="259" cy="1693.7" r="5"/><circle cx="251.7" cy="1704.3" r="5"/><circle cx="266.4" cy="1705.1" r="5"/><circle cx="259" cy="1702.7" r="5"/><circle cx="255.7" cy="1710.8" r="5"/><circle cx="265.5" cy="1708.4" r="5"/><circle cx="260.6" cy="1717.4" r="5"/><circle cx="256.6" cy="1725.5" r="5"/><circle cx="263.1" cy="1727.2" r="5"/><circle cx="262" cy="1737" r="5"/><circle cx="263.9" cy="1743.5" r="5"/><circle cx="258" cy="1750" r="5"/><circle cx="256.6" cy="1755.7" r="5"/><circle cx="251.7" cy="1766.4" r="5"/><circle cx="261.5" cy="1762.3" r="5"/><circle cx="269.6" cy="1767.2" r="5"/><circle cx="256.6" cy="1759.9" r="5"/><circle cx="268" cy="1766.4" r="5"/><circle cx="248.4" cy="1773" r="5"/><circle cx="259.8" cy="1773.8" r="5"/><circle cx="268" cy="1774.6" r="5"/><circle cx="255.7" cy="1782.8" r="5"/><circle cx="263.9" cy="1782" r="5"/><circle cx="255.7" cy="1795.8" r="5"/><circle cx="263.1" cy="1797.5" r="5"/><circle cx="259" cy="1789" r="5"/><circle cx="255.7" cy="1804" r="5"/><circle cx="259.8" cy="1813.8" r="5"/><circle cx="259.8" cy="1820.3" r="5"/><circle cx="257.4" cy="1830.1" r="5"/></g>
<g fill="#079F07"><circle cx="335.3" cy="1670.6" r="5.9"/><circle cx="345.1" cy="1673.1" r="5.9"/><circle cx="348.4" cy="1678.8" r="5.9"/><circle cx="331.2" cy="1686.1" r="5.9"/><circle cx="341" cy="1686.9" r="5.9"/><circle cx="352.5" cy="1690.2" r="5.9"/><circle cx="334.5" cy="1695.1" r="5.9"/><circle cx="342.7" cy="1697.6" r="5.9"/><circle cx="344.3" cy="1708.2" r="5.9"/><circle cx="338" cy="1702" r="5.9"/><circle cx="345.1" cy="1720.4" r="5.9"/><circle cx="335.3" cy="1725.3" r="5.9"/><circle cx="342" cy="1728" r="5.9"/><circle cx="347.6" cy="1734.3" r="5.9"/><circle cx="336.1" cy="1740.8" r="5.9"/><circle cx="344.3" cy="1745.7" r="5.9"/><circle cx="332" cy="1759.6" r="5.9"/><circle cx="340" cy="1752" r="5.9"/><circle cx="331.2" cy="1763.1" r="5.9"/><circle cx="343.5" cy="1764.7" r="5.9"/><circle cx="336.1" cy="1772.9" r="5.9"/><circle cx="352.5" cy="1772" r="5.9"/><circle cx="346.7" cy="1782.7" r="5.9"/><circle cx="331.2" cy="1791.6" r="5.9"/><circle cx="342.7" cy="1790" r="5.9"/><circle cx="352.5" cy="1791.6" r="5.9"/><circle cx="336.9" cy="1800.6" r="5.9"/><circle cx="347.6" cy="1805.5" r="5.9"/><circle cx="334.5" cy="1808.8" r="5.9"/><circle cx="342.7" cy="1812.1" r="5.9"/><circle cx="339.4" cy="1820.2" r="5.9"/></g><g fill="#0ACB0A"><circle cx="335.3" cy="1670.6" r="5"/><circle cx="345.1" cy="1673.1" r="5"/><circle cx="348.4" cy="1678.8" r="5"/><circle cx="331.2" cy="1686.1" r="5"/><circle cx="341" cy="1686.9" r="5"/><circle cx="352.5" cy="1690.2" r="5"/><circle cx="334.5" cy="1695.1" r="5"/><circle cx="342.7" cy="1697.6" r="5"/><circle cx="344.3" cy="1708.2" r="5"/><circle cx="338" cy="1702" r="5"/><circle cx="345.1" cy="1720.4" r="5"/><circle cx="335.3" cy="1725.3" r="5"/><circle cx="342" cy="1728" r="5"/><circle cx="347.6" cy="1734.3" r="5"/><circle cx="336.1" cy="1740.8" r="5"/><circle cx="344.3" cy="1745.7" r="5"/><circle cx="332" cy="1759.6" r="5"/><circle cx="340" cy="1752" r="5"/><circle cx="331.2" cy="1763.1" r="5"/><circle cx="343.5" cy="1764.7" r="5"/><circle cx="336.1" cy="1772.9" r="5"/><circle cx="352.5" cy="1772" r="5"/><circle cx="346.7" cy="1782.7" r="5"/><circle cx="331.2" cy="1791.6" r="5"/><circle cx="342.7" cy="1790" r="5"/><circle cx="352.5" cy="1791.6" r="5"/><circle cx="336.9" cy="1800.6" r="5"/><circle cx="347.6" cy="1805.5" r="5"/><circle cx="334.5" cy="1808.8" r="5"/><circle cx="342.7" cy="1812.1" r="5"/><circle cx="339.4" cy="1820.2" r="5"/></g>
<g fill="#079F07"><circle cx="396.6" cy="1672.2" r="5.9"/><circle cx="405.5" cy="1676.3" r="5.9"/><circle cx="391.7" cy="1682.9" r="5.9"/><circle cx="403.9" cy="1689.4" r="5.9"/><circle cx="391.7" cy="1694.3" r="5.9"/><circle cx="399.8" cy="1695.9" r="5.9"/><circle cx="399.8" cy="1703.3" r="5.9"/><circle cx="395.7" cy="1709" r="5.9"/><circle cx="388.4" cy="1719.6" r="5.9"/><circle cx="404.7" cy="1719.6" r="5.9"/><circle cx="410.4" cy="1724.5" r="5.9"/><circle cx="398.2" cy="1731" r="5.9"/><circle cx="395" cy="1726" r="5.9"/><circle cx="397.4" cy="1744.1" r="5.9"/><circle cx="406.4" cy="1745.7" r="5.9"/><circle cx="388.4" cy="1756.4" r="5.9"/><circle cx="410.4" cy="1757.2" r="5.9"/><circle cx="398" cy="1738" r="5.9"/><circle cx="398" cy="1752" r="5.9"/><circle cx="388.4" cy="1758.2" r="5.9"/><circle cx="402.3" cy="1753.3" r="5.9"/><circle cx="410.4" cy="1759" r="5.9"/><circle cx="394.9" cy="1766.3" r="5.9"/><circle cx="403.1" cy="1764.7" r="5.9"/><circle cx="392.5" cy="1776.1" r="5.9"/><circle cx="405.5" cy="1776.1" r="5.9"/><circle cx="399.8" cy="1788.4" r="5.9"/><circle cx="410.4" cy="1793.3" r="5.9"/><circle cx="391.7" cy="1793.3" r="5.9"/><circle cx="388.4" cy="1802.3" r="5.9"/><circle cx="399" cy="1800.6" r="5.9"/><circle cx="392.5" cy="1812.9" r="5.9"/><circle cx="405.5" cy="1812.1" r="5.9"/><circle cx="399" cy="1782" r="5.9"/></g><g fill="#0ACB0A"><circle cx="396.6" cy="1672.2" r="5"/><circle cx="405.5" cy="1676.3" r="5"/><circle cx="391.7" cy="1682.9" r="5"/><circle cx="403.9" cy="1689.4" r="5"/><circle cx="391.7" cy="1694.3" r="5"/><circle cx="399.8" cy="1695.9" r="5"/><circle cx="399.8" cy="1703.3" r="5"/><circle cx="395.7" cy="1709" r="5"/><circle cx="388.4" cy="1719.6" r="5"/><circle cx="404.7" cy="1719.6" r="5"/><circle cx="410.4" cy="1724.5" r="5"/><circle cx="398.2" cy="1731" r="5"/><circle cx="395" cy="1726" r="5"/><circle cx="397.4" cy="1744.1" r="5"/><circle cx="406.4" cy="1745.7" r="5"/><circle cx="388.4" cy="1756.4" r="5"/><circle cx="410.4" cy="1757.2" r="5"/><circle cx="398" cy="1738" r="5"/><circle cx="398" cy="1752" r="5"/><circle cx="388.4" cy="1758.2" r="5"/><circle cx="402.3" cy="1753.3" r="5"/><circle cx="410.4" cy="1759" r="5"/><circle cx="394.9" cy="1766.3" r="5"/><circle cx="403.1" cy="1764.7" r="5"/><circle cx="392.5" cy="1776.1" r="5"/><circle cx="405.5" cy="1776.1" r="5"/><circle cx="399.8" cy="1788.4" r="5"/><circle cx="410.4" cy="1793.3" r="5"/><circle cx="391.7" cy="1793.3" r="5"/><circle cx="388.4" cy="1802.3" r="5"/><circle cx="399" cy="1800.6" r="5"/><circle cx="392.5" cy="1812.9" r="5"/><circle cx="405.5" cy="1812.1" r="5"/><circle cx="399" cy="1782" r="5"/></g>
<g fill="#DA6E76"><circle cx="481.8" cy="1693.1" r="5.9"/><circle cx="481.8" cy="1710.2" r="5.9"/><circle cx="481.8" cy="1731.4" r="5.9"/><circle cx="478.6" cy="1745.3" r="5.9"/><circle cx="485.9" cy="1744.5" r="5.9"/><circle cx="481.8" cy="1758.4" r="5.9"/><circle cx="470.4" cy="1771.5" r="5.9"/><circle cx="478.6" cy="1776.4" r="5.9"/><circle cx="485.9" cy="1779.6" r="5.9"/><circle cx="478.6" cy="1778.8" r="5.9"/><circle cx="481.8" cy="1793.9" r="5.9"/><circle cx="478.6" cy="1809.8" r="5.9"/><circle cx="492.5" cy="1810.6" r="5.9"/><circle cx="470.8" cy="1818" r="5.9"/><circle cx="485.1" cy="1817.2" r="5.9"/></g><g fill="#F77A7E"><circle cx="481.8" cy="1693.1" r="5"/><circle cx="481.8" cy="1710.2" r="5"/><circle cx="481.8" cy="1731.4" r="5"/><circle cx="478.6" cy="1745.3" r="5"/><circle cx="485.9" cy="1744.5" r="5"/><circle cx="481.8" cy="1758.4" r="5"/><circle cx="470.4" cy="1771.5" r="5"/><circle cx="478.6" cy="1776.4" r="5"/><circle cx="485.9" cy="1779.6" r="5"/><circle cx="478.6" cy="1778.8" r="5"/><circle cx="481.8" cy="1793.9" r="5"/><circle cx="478.6" cy="1809.8" r="5"/><circle cx="492.5" cy="1810.6" r="5"/><circle cx="470.8" cy="1818" r="5"/><circle cx="485.1" cy="1817.2" r="5"/></g>
<g fill="#DA6E76"><circle cx="535.7" cy="1701.2" r="5.9"/><circle cx="543.1" cy="1711.8" r="5.9"/><circle cx="535.7" cy="1738.8" r="5.9"/><circle cx="542.3" cy="1748.6" r="5.9"/><circle cx="549.6" cy="1747" r="5.9"/><circle cx="535.7" cy="1761.7" r="5.9"/><circle cx="543.1" cy="1766.6" r="5.9"/><circle cx="528.4" cy="1776.4" r="5.9"/><circle cx="543.1" cy="1778.8" r="5.9"/><circle cx="543.1" cy="1781.2" r="5.9"/><circle cx="535.7" cy="1787.8" r="5.9"/><circle cx="535.7" cy="1809" r="5.9"/><circle cx="542.3" cy="1813.9" r="5.9"/><circle cx="550.4" cy="1810.6" r="5.9"/><circle cx="528.4" cy="1819.2" r="5.9"/></g><g fill="#F77A7E"><circle cx="535.7" cy="1701.2" r="5"/><circle cx="543.1" cy="1711.8" r="5"/><circle cx="535.7" cy="1738.8" r="5"/><circle cx="542.3" cy="1748.6" r="5"/><circle cx="549.6" cy="1747" r="5"/><circle cx="535.7" cy="1761.7" r="5"/><circle cx="543.1" cy="1766.6" r="5"/><circle cx="528.4" cy="1776.4" r="5"/><circle cx="543.1" cy="1778.8" r="5"/><circle cx="543.1" cy="1781.2" r="5"/><circle cx="535.7" cy="1787.8" r="5"/><circle cx="535.7" cy="1809" r="5"/><circle cx="542.3" cy="1813.9" r="5"/><circle cx="550.4" cy="1810.6" r="5"/><circle cx="528.4" cy="1819.2" r="5"/></g>
<g fill="#3B3BC4"><circle cx="621.8" cy="1694.7" r="5.9"/><circle cx="627.6" cy="1720" r="5.9"/><circle cx="621.8" cy="1728.2" r="5.9"/><circle cx="621.8" cy="1744.5" r="5.9"/><circle cx="617" cy="1755.9" r="5.9"/><circle cx="628.4" cy="1763.3" r="5.9"/><circle cx="633.3" cy="1765.7" r="5.9"/><circle cx="611.2" cy="1768.2" r="5.9"/><circle cx="618.6" cy="1773.9" r="5.9"/><circle cx="627.6" cy="1774.7" r="5.9"/><circle cx="617.8" cy="1775.5" r="5.9"/><circle cx="627.6" cy="1789.4" r="5.9"/><circle cx="621.8" cy="1795.1" r="5.9"/><circle cx="621.8" cy="1814.7" r="5.9"/></g><g fill="#5252EE"><circle cx="621.8" cy="1694.7" r="5"/><circle cx="627.6" cy="1720" r="5"/><circle cx="621.8" cy="1728.2" r="5"/><circle cx="621.8" cy="1744.5" r="5"/><circle cx="617" cy="1755.9" r="5"/><circle cx="628.4" cy="1763.3" r="5"/><circle cx="633.3" cy="1765.7" r="5"/><circle cx="611.2" cy="1768.2" r="5"/><circle cx="618.6" cy="1773.9" r="5"/><circle cx="627.6" cy="1774.7" r="5"/><circle cx="617.8" cy="1775.5" r="5"/><circle cx="627.6" cy="1789.4" r="5"/><circle cx="621.8" cy="1795.1" r="5"/><circle cx="621.8" cy="1814.7" r="5"/></g>
<g fill="#3B3BC4"><circle cx="673.3" cy="1700.8" r="5.9"/><circle cx="684.7" cy="1706.9" r="5.9"/><circle cx="679" cy="1720.8" r="5.9"/><circle cx="679" cy="1732.3" r="5.9"/><circle cx="690.4" cy="1745.3" r="5.9"/><circle cx="667.6" cy="1754.3" r="5.9"/><circle cx="679.8" cy="1751" r="5.9"/><circle cx="679" cy="1762.5" r="5.9"/><circle cx="690.4" cy="1764.9" r="5.9"/><circle cx="667.6" cy="1771.9" r="5.9"/><circle cx="673.3" cy="1788.6" r="5.9"/><circle cx="684.7" cy="1785.3" r="5.9"/><circle cx="679" cy="1802.1" r="5.9"/><circle cx="679" cy="1815.5" r="5.9"/></g><g fill="#5252EE"><circle cx="673.3" cy="1700.8" r="5"/><circle cx="684.7" cy="1706.9" r="5"/><circle cx="679" cy="1720.8" r="5"/><circle cx="679" cy="1732.3" r="5"/><circle cx="690.4" cy="1745.3" r="5"/><circle cx="667.6" cy="1754.3" r="5"/><circle cx="679.8" cy="1751" r="5"/><circle cx="679" cy="1762.5" r="5"/><circle cx="690.4" cy="1764.9" r="5"/><circle cx="667.6" cy="1771.9" r="5"/><circle cx="673.3" cy="1788.6" r="5"/><circle cx="684.7" cy="1785.3" r="5"/><circle cx="679" cy="1802.1" r="5"/><circle cx="679" cy="1815.5" r="5"/></g>
<path d="M186.3 1739H218.3M243.4 1745.1H275.4M326.2 1724.9H358.2M383.4 1729.8H415.4M466.5 1753.9H498.5M523.4 1756.8H555.4M606.5 1752.3H638.5M663.4 1747H695.4" class="md"/>
<path d="M201 1664.5V1646.3H252.8V1664.5" class="br"/>
<text x="207.9" y="1643.9" font-size="60.31" class="st">*</text>
<text x="241.9" y="1643.9" font-size="60.31" class="st">*</text>
<path d="M342.3 1644.4V1625.9H394.6V1644.4" class="br"/>
<text x="367.8" y="1624.2" font-size="60.31" class="st">*</text></g>
<g id="pF"><text transform="translate(926.51,1475.19) scale(1.0477,1)" font-size="45.81" class="b">(F)</text>
<text transform="translate(913.2,1910.84) rotate(-90) scale(0.9544,1)" font-size="49.21" class="b">MDC (pg/mL)</text>
<text transform="translate(936.66,1625.3) scale(0.8875,1)" font-size="50.85" class="b">10</text>
<text transform="translate(990.06,1610.1) scale(0.96,1)" font-size="34.3" class="b">4</text>
<text transform="translate(936.66,1794.9) scale(0.8875,1)" font-size="50.85" class="b">10</text>
<text transform="translate(991.59,1779.33) scale(0.96,1)" font-size="33.26" class="b">3</text>
<text transform="translate(936.66,1964.1) scale(0.8875,1)" font-size="50.85" class="b">10</text>
<text transform="translate(991.45,1948.9) scale(0.96,1)" font-size="33.8" class="b">2</text>
<text transform="translate(1048.18,2003.19) scale(0.9807,1)" font-size="41.81" class="b">0</text>
<text transform="translate(1083.96,2003.13) scale(0.9922,1)" font-size="41.72" class="b">2-3</text>
<text transform="translate(1179.26,2003.19) scale(0.9908,1)" font-size="41.81" class="b">0</text>
<text x="1214.65" y="2003.13" font-size="41.72" class="b">2-3</text>
<text transform="translate(1310.54,2003.19) scale(0.9455,1)" font-size="41.81" class="b">0</text>
<text transform="translate(1346.18,2003.13) scale(0.9818,1)" font-size="41.72" class="b">2-3</text>
<text transform="translate(1441.54,2003.19) scale(0.9455,1)" font-size="41.81" class="b">0</text>
<text transform="translate(1477.18,2003.13) scale(0.9818,1)" font-size="41.72" class="b">2-3</text>
<text transform="translate(1016.77,2047.6) scale(1.0431,1)" font-size="31.88" class="r">Melatonin</text>
<text transform="translate(1174.22,2047.6) scale(1.0352,1)" font-size="31.88" class="r">Control</text>
<text transform="translate(1299,2050.3) scale(1.0432,1)" font-size="31.6" class="r">Melatonin</text>
<text transform="translate(1457.53,2048.9) scale(1.0412,1)" font-size="31.6" class="r">Control</text>
<text transform="translate(1110.45,2105.9) scale(1.0170,1)" font-size="46.23" class="b">High</text>
<text transform="translate(1385.68,2108.7) scale(0.9953,1)" font-size="48.4" class="b">Low</text>
<path d="M1029 1605.8V1948.7M1015.1 1945.7H1539.4M1015.1 1606.8H1029M1015.1 1776.4H1029M1015.1 1945.6H1029M1059.7 1945.7V1960.2M1113.2 1945.7V1960.2M1191 1945.7V1960.2M1244.2 1945.7V1960.2M1321.5 1945.7V1960.2M1374.7 1945.7V1960.2M1452.9 1945.7V1960.2M1506.1 1945.7V1960.2" class="ax"/>
<path d="M1283.2 1608.4V1945" class="vd"/>
<g fill="#EDB676"><circle cx="1062.7" cy="1638" r="5.9"/><circle cx="1056.9" cy="1643.7" r="5.9"/><circle cx="1053.7" cy="1655.9" r="5.9"/><circle cx="1061" cy="1658.4" r="5.9"/><circle cx="1065.9" cy="1660.8" r="5.9"/><circle cx="1052" cy="1669.8" r="5.9"/><circle cx="1061" cy="1668.2" r="5.9"/><circle cx="1069.2" cy="1668.2" r="5.9"/><circle cx="1054.5" cy="1683.7" r="5.9"/><circle cx="1064.3" cy="1680.4" r="5.9"/><circle cx="1058" cy="1675" r="5.9"/><circle cx="1057.8" cy="1701.7" r="5.9"/><circle cx="1063.5" cy="1698.4" r="5.9"/><circle cx="1060.2" cy="1713.9" r="5.9"/><circle cx="1059.8" cy="1740.5" r="5.9"/><circle cx="1060.2" cy="1755.6" r="5.9"/><circle cx="1069.2" cy="1758.9" r="5.9"/><circle cx="1049.6" cy="1765.4" r="5.9"/><circle cx="1060.2" cy="1765.4" r="5.9"/><circle cx="1068.4" cy="1770.3" r="5.9"/><circle cx="1054.5" cy="1776" r="5.9"/><circle cx="1068.4" cy="1779.3" r="5.9"/><circle cx="1050.4" cy="1786.7" r="5.9"/><circle cx="1061" cy="1782.6" r="5.9"/><circle cx="1056.9" cy="1794.8" r="5.9"/><circle cx="1069.2" cy="1794.8" r="5.9"/><circle cx="1054.5" cy="1803" r="5.9"/><circle cx="1049.6" cy="1793.3" r="5.9"/><circle cx="1060.2" cy="1794.9" r="5.9"/><circle cx="1064.3" cy="1803.9" r="5.9"/><circle cx="1060" cy="1774" r="5.9"/><circle cx="1059.8" cy="1848.4" r="5.9"/></g><g fill="#FEC77E"><circle cx="1062.7" cy="1638" r="5"/><circle cx="1056.9" cy="1643.7" r="5"/><circle cx="1053.7" cy="1655.9" r="5"/><circle cx="1061" cy="1658.4" r="5"/><circle cx="1065.9" cy="1660.8" r="5"/><circle cx="1052" cy="1669.8" r="5"/><circle cx="1061" cy="1668.2" r="5"/><circle cx="1069.2" cy="1668.2" r="5"/><circle cx="1054.5" cy="1683.7" r="5"/><circle cx="1064.3" cy="1680.4" r="5"/><circle cx="1058" cy="1675" r="5"/><circle cx="1057.8" cy="1701.7" r="5"/><circle cx="1063.5" cy="1698.4" r="5"/><circle cx="1060.2" cy="1713.9" r="5"/><circle cx="1059.8" cy="1740.5" r="5"/><circle cx="1060.2" cy="1755.6" r="5"/><circle cx="1069.2" cy="1758.9" r="5"/><circle cx="1049.6" cy="1765.4" r="5"/><circle cx="1060.2" cy="1765.4" r="5"/><circle cx="1068.4" cy="1770.3" r="5"/><circle cx="1054.5" cy="1776" r="5"/><circle cx="1068.4" cy="1779.3" r="5"/><circle cx="1050.4" cy="1786.7" r="5"/><circle cx="1061" cy="1782.6" r="5"/><circle cx="1056.9" cy="1794.8" r="5"/><circle cx="1069.2" cy="1794.8" r="5"/><circle cx="1054.5" cy="1803" r="5"/><circle cx="1049.6" cy="1793.3" r="5"/><circle cx="1060.2" cy="1794.9" r="5"/><circle cx="1064.3" cy="1803.9" r="5"/><circle cx="1060" cy="1774" r="5"/><circle cx="1059.8" cy="1848.4" r="5"/></g>
<g fill="#EDB676"><circle cx="1112.5" cy="1639.6" r="5.9"/><circle cx="1105.1" cy="1642.9" r="5.9"/><circle cx="1115.7" cy="1645.3" r="5.9"/><circle cx="1121.5" cy="1651" r="5.9"/><circle cx="1111.7" cy="1654.3" r="5.9"/><circle cx="1122.3" cy="1664.1" r="5.9"/><circle cx="1104.3" cy="1668.2" r="5.9"/><circle cx="1114.1" cy="1667.4" r="5.9"/><circle cx="1111.7" cy="1675.5" r="5.9"/><circle cx="1117.4" cy="1673.9" r="5.9"/><circle cx="1112.5" cy="1687" r="5.9"/><circle cx="1112.5" cy="1702.5" r="5.9"/><circle cx="1112" cy="1660" r="5.9"/><circle cx="1112.5" cy="1740.9" r="5.9"/><circle cx="1108.4" cy="1748.3" r="5.9"/><circle cx="1116.6" cy="1754.8" r="5.9"/><circle cx="1110" cy="1764.6" r="5.9"/><circle cx="1117.4" cy="1771.1" r="5.9"/><circle cx="1108.4" cy="1771.9" r="5.9"/><circle cx="1105.1" cy="1780.9" r="5.9"/><circle cx="1114.9" cy="1780.1" r="5.9"/><circle cx="1122.3" cy="1780.1" r="5.9"/><circle cx="1102.7" cy="1792.4" r="5.9"/><circle cx="1111.7" cy="1791.6" r="5.9"/><circle cx="1123.9" cy="1792.4" r="5.9"/><circle cx="1113.3" cy="1801.4" r="5.9"/><circle cx="1114.9" cy="1803.1" r="5.9"/><circle cx="1112.5" cy="1809.6" r="5.9"/><circle cx="1110.8" cy="1816.1" r="5.9"/><circle cx="1112" cy="1760" r="5.9"/><circle cx="1114" cy="1786" r="5.9"/></g><g fill="#FEC77E"><circle cx="1112.5" cy="1639.6" r="5"/><circle cx="1105.1" cy="1642.9" r="5"/><circle cx="1115.7" cy="1645.3" r="5"/><circle cx="1121.5" cy="1651" r="5"/><circle cx="1111.7" cy="1654.3" r="5"/><circle cx="1122.3" cy="1664.1" r="5"/><circle cx="1104.3" cy="1668.2" r="5"/><circle cx="1114.1" cy="1667.4" r="5"/><circle cx="1111.7" cy="1675.5" r="5"/><circle cx="1117.4" cy="1673.9" r="5"/><circle cx="1112.5" cy="1687" r="5"/><circle cx="1112.5" cy="1702.5" r="5"/><circle cx="1112" cy="1660" r="5"/><circle cx="1112.5" cy="1740.9" r="5"/><circle cx="1108.4" cy="1748.3" r="5"/><circle cx="1116.6" cy="1754.8" r="5"/><circle cx="1110" cy="1764.6" r="5"/><circle cx="1117.4" cy="1771.1" r="5"/><circle cx="1108.4" cy="1771.9" r="5"/><circle cx="1105.1" cy="1780.9" r="5"/><circle cx="1114.9" cy="1780.1" r="5"/><circle cx="1122.3" cy="1780.1" r="5"/><circle cx="1102.7" cy="1792.4" r="5"/><circle cx="1111.7" cy="1791.6" r="5"/><circle cx="1123.9" cy="1792.4" r="5"/><circle cx="1113.3" cy="1801.4" r="5"/><circle cx="1114.9" cy="1803.1" r="5"/><circle cx="1112.5" cy="1809.6" r="5"/><circle cx="1110.8" cy="1816.1" r="5"/><circle cx="1112" cy="1760" r="5"/><circle cx="1114" cy="1786" r="5"/></g>
<g fill="#079F07"><circle cx="1190.2" cy="1626.5" r="5.9"/><circle cx="1190.2" cy="1647" r="5.9"/><circle cx="1182" cy="1655.1" r="5.9"/><circle cx="1191" cy="1659.2" r="5.9"/><circle cx="1198.4" cy="1663.3" r="5.9"/><circle cx="1187" cy="1667.4" r="5.9"/><circle cx="1194.3" cy="1670.6" r="5.9"/><circle cx="1184.5" cy="1675.5" r="5.9"/><circle cx="1195.9" cy="1676.3" r="5.9"/><circle cx="1190.2" cy="1683.7" r="5.9"/><circle cx="1191" cy="1690.2" r="5.9"/><circle cx="1193.5" cy="1695.9" r="5.9"/><circle cx="1187.8" cy="1700" r="5.9"/><circle cx="1191" cy="1718.8" r="5.9"/><circle cx="1191.8" cy="1719.8" r="5.9"/><circle cx="1192.7" cy="1725.5" r="5.9"/><circle cx="1187.8" cy="1731.2" r="5.9"/><circle cx="1190.2" cy="1753.3" r="5.9"/><circle cx="1190.2" cy="1765.5" r="5.9"/><circle cx="1181.2" cy="1774.5" r="5.9"/><circle cx="1200" cy="1772.1" r="5.9"/><circle cx="1190.2" cy="1777" r="5.9"/><circle cx="1181.2" cy="1783.5" r="5.9"/><circle cx="1199.2" cy="1781.9" r="5.9"/><circle cx="1190.2" cy="1787.6" r="5.9"/><circle cx="1197.6" cy="1794.9" r="5.9"/><circle cx="1180.4" cy="1801.5" r="5.9"/><circle cx="1190.2" cy="1801.5" r="5.9"/><circle cx="1200" cy="1803.9" r="5.9"/><circle cx="1198.4" cy="1794.9" r="5.9"/><circle cx="1200.8" cy="1807.1" r="5.9"/><circle cx="1190" cy="1795" r="5.9"/><circle cx="1189" cy="1769" r="5.9"/></g><g fill="#0ACB0A"><circle cx="1190.2" cy="1626.5" r="5"/><circle cx="1190.2" cy="1647" r="5"/><circle cx="1182" cy="1655.1" r="5"/><circle cx="1191" cy="1659.2" r="5"/><circle cx="1198.4" cy="1663.3" r="5"/><circle cx="1187" cy="1667.4" r="5"/><circle cx="1194.3" cy="1670.6" r="5"/><circle cx="1184.5" cy="1675.5" r="5"/><circle cx="1195.9" cy="1676.3" r="5"/><circle cx="1190.2" cy="1683.7" r="5"/><circle cx="1191" cy="1690.2" r="5"/><circle cx="1193.5" cy="1695.9" r="5"/><circle cx="1187.8" cy="1700" r="5"/><circle cx="1191" cy="1718.8" r="5"/><circle cx="1191.8" cy="1719.8" r="5"/><circle cx="1192.7" cy="1725.5" r="5"/><circle cx="1187.8" cy="1731.2" r="5"/><circle cx="1190.2" cy="1753.3" r="5"/><circle cx="1190.2" cy="1765.5" r="5"/><circle cx="1181.2" cy="1774.5" r="5"/><circle cx="1200" cy="1772.1" r="5"/><circle cx="1190.2" cy="1777" r="5"/><circle cx="1181.2" cy="1783.5" r="5"/><circle cx="1199.2" cy="1781.9" r="5"/><circle cx="1190.2" cy="1787.6" r="5"/><circle cx="1197.6" cy="1794.9" r="5"/><circle cx="1180.4" cy="1801.5" r="5"/><circle cx="1190.2" cy="1801.5" r="5"/><circle cx="1200" cy="1803.9" r="5"/><circle cx="1198.4" cy="1794.9" r="5"/><circle cx="1200.8" cy="1807.1" r="5"/><circle cx="1190" cy="1795" r="5"/><circle cx="1189" cy="1769" r="5"/></g>
<g fill="#079F07"><circle cx="1244.1" cy="1614.5" r="5.9"/><circle cx="1244.1" cy="1653.5" r="5.9"/><circle cx="1246.6" cy="1662.5" r="5.9"/><circle cx="1243.3" cy="1669" r="5.9"/><circle cx="1244.1" cy="1675.5" r="5.9"/><circle cx="1236" cy="1682.1" r="5.9"/><circle cx="1252.3" cy="1683.7" r="5.9"/><circle cx="1244.1" cy="1687" r="5.9"/><circle cx="1244.1" cy="1695.1" r="5.9"/><circle cx="1244.1" cy="1703.3" r="5.9"/><circle cx="1244.1" cy="1709.8" r="5.9"/><circle cx="1244.1" cy="1718.8" r="5.9"/><circle cx="1244.1" cy="1722.2" r="5.9"/><circle cx="1244.1" cy="1731.2" r="5.9"/><circle cx="1244.9" cy="1757.4" r="5.9"/><circle cx="1235.9" cy="1762.3" r="5.9"/><circle cx="1252.3" cy="1763.1" r="5.9"/><circle cx="1244.1" cy="1768.8" r="5.9"/><circle cx="1242.5" cy="1777" r="5.9"/><circle cx="1244.9" cy="1783.5" r="5.9"/><circle cx="1235.1" cy="1793.3" r="5.9"/><circle cx="1244.9" cy="1794.9" r="5.9"/><circle cx="1254.7" cy="1793.3" r="5.9"/><circle cx="1245.7" cy="1800.6" r="5.9"/><circle cx="1233.5" cy="1794.1" r="5.9"/><circle cx="1245.7" cy="1799.8" r="5.9"/><circle cx="1253.9" cy="1794.9" r="5.9"/><circle cx="1244" cy="1788" r="5.9"/></g><g fill="#0ACB0A"><circle cx="1244.1" cy="1614.5" r="5"/><circle cx="1244.1" cy="1653.5" r="5"/><circle cx="1246.6" cy="1662.5" r="5"/><circle cx="1243.3" cy="1669" r="5"/><circle cx="1244.1" cy="1675.5" r="5"/><circle cx="1236" cy="1682.1" r="5"/><circle cx="1252.3" cy="1683.7" r="5"/><circle cx="1244.1" cy="1687" r="5"/><circle cx="1244.1" cy="1695.1" r="5"/><circle cx="1244.1" cy="1703.3" r="5"/><circle cx="1244.1" cy="1709.8" r="5"/><circle cx="1244.1" cy="1718.8" r="5"/><circle cx="1244.1" cy="1722.2" r="5"/><circle cx="1244.1" cy="1731.2" r="5"/><circle cx="1244.9" cy="1757.4" r="5"/><circle cx="1235.9" cy="1762.3" r="5"/><circle cx="1252.3" cy="1763.1" r="5"/><circle cx="1244.1" cy="1768.8" r="5"/><circle cx="1242.5" cy="1777" r="5"/><circle cx="1244.9" cy="1783.5" r="5"/><circle cx="1235.1" cy="1793.3" r="5"/><circle cx="1244.9" cy="1794.9" r="5"/><circle cx="1254.7" cy="1793.3" r="5"/><circle cx="1245.7" cy="1800.6" r="5"/><circle cx="1233.5" cy="1794.1" r="5"/><circle cx="1245.7" cy="1799.8" r="5"/><circle cx="1253.9" cy="1794.9" r="5"/><circle cx="1244" cy="1788" r="5"/></g>
<g fill="#DA6E76"><circle cx="1322" cy="1641.4" r="5.9"/><circle cx="1321.4" cy="1654.3" r="5.9"/><circle cx="1321.4" cy="1682.1" r="5.9"/><circle cx="1311.2" cy="1756.9" r="5.9"/><circle cx="1317.8" cy="1757.8" r="5.9"/><circle cx="1332.5" cy="1758.6" r="5.9"/><circle cx="1311.2" cy="1767.6" r="5.9"/><circle cx="1325.1" cy="1768.4" r="5.9"/><circle cx="1332.5" cy="1770" r="5.9"/><circle cx="1325.1" cy="1779" r="5.9"/><circle cx="1332.5" cy="1786.3" r="5.9"/><circle cx="1317.8" cy="1793.7" r="5.9"/><circle cx="1325.1" cy="1796.1" r="5.9"/><circle cx="1321.4" cy="1823.1" r="5.9"/></g><g fill="#F77A7E"><circle cx="1322" cy="1641.4" r="5"/><circle cx="1321.4" cy="1654.3" r="5"/><circle cx="1321.4" cy="1682.1" r="5"/><circle cx="1311.2" cy="1756.9" r="5"/><circle cx="1317.8" cy="1757.8" r="5"/><circle cx="1332.5" cy="1758.6" r="5"/><circle cx="1311.2" cy="1767.6" r="5"/><circle cx="1325.1" cy="1768.4" r="5"/><circle cx="1332.5" cy="1770" r="5"/><circle cx="1325.1" cy="1779" r="5"/><circle cx="1332.5" cy="1786.3" r="5"/><circle cx="1317.8" cy="1793.7" r="5"/><circle cx="1325.1" cy="1796.1" r="5"/><circle cx="1321.4" cy="1823.1" r="5"/></g>
<g fill="#DA6E76"><circle cx="1375.5" cy="1632.5" r="5.9"/><circle cx="1375.3" cy="1662" r="5.9"/><circle cx="1375.3" cy="1674.3" r="5.9"/><circle cx="1365.1" cy="1761" r="5.9"/><circle cx="1371.7" cy="1758.6" r="5.9"/><circle cx="1379.8" cy="1760.2" r="5.9"/><circle cx="1386.4" cy="1758.6" r="5.9"/><circle cx="1386.4" cy="1765.9" r="5.9"/><circle cx="1376.6" cy="1766.7" r="5.9"/><circle cx="1365.1" cy="1773.3" r="5.9"/><circle cx="1375.3" cy="1785.5" r="5.9"/><circle cx="1375.3" cy="1798.2" r="5.9"/><circle cx="1375.3" cy="1824.3" r="5.9"/></g><g fill="#F77A7E"><circle cx="1375.5" cy="1632.5" r="5"/><circle cx="1375.3" cy="1662" r="5"/><circle cx="1375.3" cy="1674.3" r="5"/><circle cx="1365.1" cy="1761" r="5"/><circle cx="1371.7" cy="1758.6" r="5"/><circle cx="1379.8" cy="1760.2" r="5"/><circle cx="1386.4" cy="1758.6" r="5"/><circle cx="1386.4" cy="1765.9" r="5"/><circle cx="1376.6" cy="1766.7" r="5"/><circle cx="1365.1" cy="1773.3" r="5"/><circle cx="1375.3" cy="1785.5" r="5"/><circle cx="1375.3" cy="1798.2" r="5"/><circle cx="1375.3" cy="1824.3" r="5"/></g>
<g fill="#3B3BC4"><circle cx="1453.1" cy="1658.4" r="5.9"/><circle cx="1450.2" cy="1673.5" r="5.9"/><circle cx="1455.9" cy="1675.1" r="5.9"/><circle cx="1453.1" cy="1711.5" r="5.9"/><circle cx="1447.8" cy="1762.9" r="5.9"/><circle cx="1442.9" cy="1769.4" r="5.9"/><circle cx="1452.7" cy="1768.6" r="5.9"/><circle cx="1462.5" cy="1771" r="5.9"/><circle cx="1446.9" cy="1777.6" r="5.9"/><circle cx="1457.6" cy="1775.1" r="5.9"/><circle cx="1452.7" cy="1791.4" r="5.9"/><circle cx="1452.7" cy="1802.1" r="5.9"/><circle cx="1458.4" cy="1806.1" r="5.9"/><circle cx="1447.8" cy="1813.5" r="5.9"/></g><g fill="#5252EE"><circle cx="1453.1" cy="1658.4" r="5"/><circle cx="1450.2" cy="1673.5" r="5"/><circle cx="1455.9" cy="1675.1" r="5"/><circle cx="1453.1" cy="1711.5" r="5"/><circle cx="1447.8" cy="1762.9" r="5"/><circle cx="1442.9" cy="1769.4" r="5"/><circle cx="1452.7" cy="1768.6" r="5"/><circle cx="1462.5" cy="1771" r="5"/><circle cx="1446.9" cy="1777.6" r="5"/><circle cx="1457.6" cy="1775.1" r="5"/><circle cx="1452.7" cy="1791.4" r="5"/><circle cx="1452.7" cy="1802.1" r="5"/><circle cx="1458.4" cy="1806.1" r="5"/><circle cx="1447.8" cy="1813.5" r="5"/></g>
<g fill="#3B3BC4"><circle cx="1500" cy="1658.8" r="5.9"/><circle cx="1506.6" cy="1657.1" r="5.9"/><circle cx="1513.9" cy="1660.4" r="5.9"/><circle cx="1506.6" cy="1694.3" r="5.9"/><circle cx="1496.8" cy="1762" r="5.9"/><circle cx="1502.5" cy="1759.6" r="5.9"/><circle cx="1509.8" cy="1761.2" r="5.9"/><circle cx="1516.4" cy="1762" r="5.9"/><circle cx="1509.8" cy="1771.8" r="5.9"/><circle cx="1496.8" cy="1780.8" r="5.9"/><circle cx="1516.4" cy="1784.9" r="5.9"/><circle cx="1502.5" cy="1791.4" r="5.9"/><circle cx="1509.8" cy="1791.4" r="5.9"/><circle cx="1506.6" cy="1807" r="5.9"/></g><g fill="#5252EE"><circle cx="1500" cy="1658.8" r="5"/><circle cx="1506.6" cy="1657.1" r="5"/><circle cx="1513.9" cy="1660.4" r="5"/><circle cx="1506.6" cy="1694.3" r="5"/><circle cx="1496.8" cy="1762" r="5"/><circle cx="1502.5" cy="1759.6" r="5"/><circle cx="1509.8" cy="1761.2" r="5"/><circle cx="1516.4" cy="1762" r="5"/><circle cx="1509.8" cy="1771.8" r="5"/><circle cx="1496.8" cy="1780.8" r="5"/><circle cx="1516.4" cy="1784.9" r="5"/><circle cx="1502.5" cy="1791.4" r="5"/><circle cx="1509.8" cy="1791.4" r="5"/><circle cx="1506.6" cy="1807" r="5"/></g>
<path d="M1043.8 1717.8H1075.8M1097.1 1711H1129.1M1174.6 1716.8H1206.6M1228.3 1714.6H1260.3M1306 1730.8H1338M1359.5 1727H1391.5M1437 1734.9H1469M1490.5 1725.9H1522.5" class="md"/>
<path d="M1058.3 1616.7V1599.3H1107V1616.7" class="br"/>
<text x="1064.2" y="1597.66" font-size="56.14" class="st">*</text>
<text x="1096.3" y="1597.66" font-size="56.14" class="st">*</text>
<path d="M1189.9 1601.5V1584.2H1238.9V1601.5" class="br"/>
<text x="1213.6" y="1582.76" font-size="56.14" class="st">*</text>
<path d="M1455 1639.9V1623.1H1504V1639.9" class="br"/>
<text x="1478.1" y="1620.86" font-size="56.14" class="st">*</text></g>
</svg></body></html>
